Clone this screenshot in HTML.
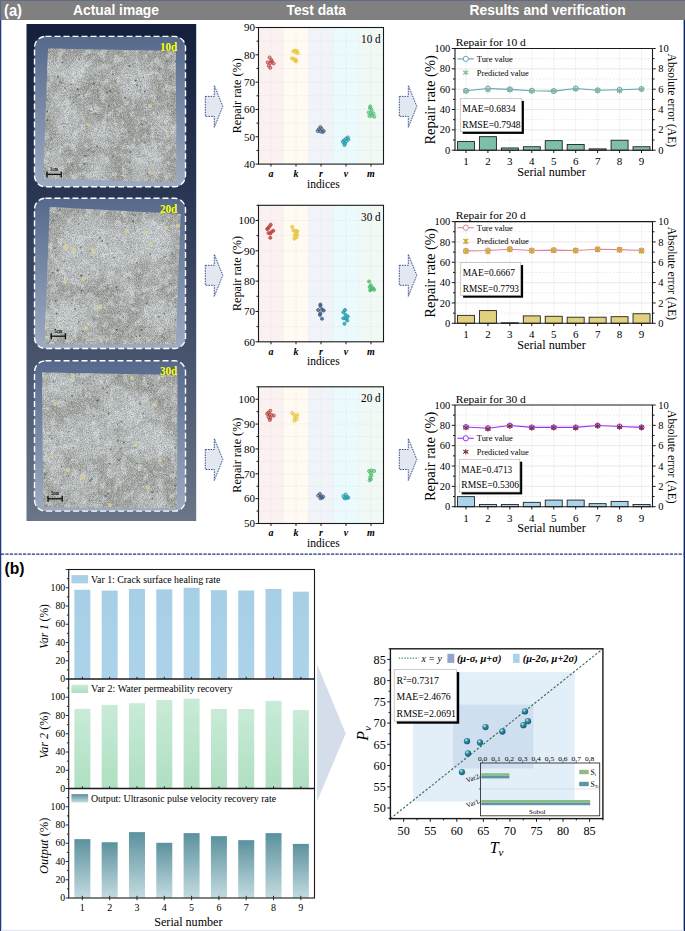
<!DOCTYPE html>
<html><head><meta charset="utf-8"><style>
html,body{margin:0;padding:0;background:#fff;width:685px;height:931px;overflow:hidden}
svg{display:block}
</style></head><body>
<svg width="685" height="931" viewBox="0 0 685 931">
<rect x="0.00" y="0.00" width="685.00" height="931.00" fill="#fff" stroke="none" stroke-width="1"/>
<rect x="0.00" y="0.00" width="685.00" height="1.10" fill="#5e6a86" stroke="none" stroke-width="1"/>
<rect x="0.00" y="1.00" width="685.00" height="19.00" fill="#808080" stroke="none" stroke-width="1"/>
<text x="4.00" y="16.00" font-family="'Liberation Sans', sans-serif" font-size="16" font-weight="bold" font-style="normal" fill="#fff" text-anchor="start" textLength="18" lengthAdjust="spacingAndGlyphs">(a)</text>
<text x="116.00" y="15.00" font-family="'Liberation Sans', sans-serif" font-size="14" font-weight="bold" font-style="normal" fill="#fff" text-anchor="middle" textLength="86" lengthAdjust="spacingAndGlyphs">Actual image</text>
<text x="316.30" y="15.00" font-family="'Liberation Sans', sans-serif" font-size="14" font-weight="bold" font-style="normal" fill="#fff" text-anchor="middle" textLength="59.5" lengthAdjust="spacingAndGlyphs">Test data</text>
<text x="547.60" y="15.00" font-family="'Liberation Sans', sans-serif" font-size="14" font-weight="bold" font-style="normal" fill="#fff" text-anchor="middle" textLength="156" lengthAdjust="spacingAndGlyphs">Results and verification</text>
<defs>
<linearGradient id="pg" x1="0" y1="0" x2="0" y2="1">
 <stop offset="0" stop-color="#141f3b"/><stop offset="0.35" stop-color="#2a3754"/><stop offset="0.7" stop-color="#4b5670"/><stop offset="1" stop-color="#6b7587"/>
</linearGradient>
<linearGradient id="sg" x1="0" y1="0" x2="0" y2="1">
 <stop offset="0" stop-color="#56698c"/><stop offset="1" stop-color="#9cabc1"/>
</linearGradient>
<filter id="tex" x="0" y="0" width="100%" height="100%">
 <feTurbulence type="fractalNoise" baseFrequency="1.3" numOctaves="2" seed="4" result="n"/>
 <feColorMatrix in="n" type="matrix" values="0 0 0 0 0  0 0 0 0 0  0 0 0 0 0  -5 0 0 0 3.0" result="a"/>
 <feComposite in="SourceGraphic" in2="a" operator="in" result="c"/>
 <feGaussianBlur in="c" stdDeviation="0.3"/>
</filter>
<filter id="texl" x="0" y="0" width="100%" height="100%">
 <feTurbulence type="fractalNoise" baseFrequency="1.1" numOctaves="2" seed="8" result="n"/>
 <feColorMatrix in="n" type="matrix" values="0 0 0 0 0  0 0 0 0 0  0 0 0 0 0  0 5 0 0 -2.2" result="a"/>
 <feComposite in="SourceGraphic" in2="a" operator="in" result="c"/>
 <feGaussianBlur in="c" stdDeviation="0.3"/>
</filter>
<filter id="sb" x="-50%" y="-50%" width="200%" height="200%"><feGaussianBlur stdDeviation="0.5"/></filter>
<filter id="wb" x="-20%" y="-20%" width="140%" height="140%"><feGaussianBlur stdDeviation="3.5"/></filter>
<filter id="mid" x="0" y="0" width="100%" height="100%">
 <feTurbulence type="fractalNoise" baseFrequency="0.14" numOctaves="2" seed="31" result="n"/>
 <feColorMatrix in="n" type="matrix" values="0 0 0 0 0  0 0 0 0 0  0 0 0 0 0  0 0 0 5 -2.45" result="a"/>
 <feComposite in="SourceGraphic" in2="a" operator="in"/>
</filter>
<filter id="blot1" x="0" y="0" width="100%" height="100%">
 <feTurbulence type="fractalNoise" baseFrequency="0.035" numOctaves="3" seed="11" result="n"/>
 <feColorMatrix in="n" type="matrix" values="0 0 0 0 0  0 0 0 0 0  0 0 0 0 0  0 0 0 3.2 -1.45" result="a"/>
 <feComposite in="SourceGraphic" in2="a" operator="in"/>
</filter>
<filter id="blot2" x="0" y="0" width="100%" height="100%">
 <feTurbulence type="fractalNoise" baseFrequency="0.03" numOctaves="3" seed="23" result="n"/>
 <feColorMatrix in="n" type="matrix" values="0 0 0 0 0  0 0 0 0 0  0 0 0 0 0  0 0 0 3.2 -1.35" result="a"/>
 <feComposite in="SourceGraphic" in2="a" operator="in"/>
</filter>
<filter id="blot3" x="0" y="0" width="100%" height="100%">
 <feTurbulence type="fractalNoise" baseFrequency="0.03" numOctaves="3" seed="37" result="n"/>
 <feColorMatrix in="n" type="matrix" values="0 0 0 0 0  0 0 0 0 0  0 0 0 0 0  0 0 0 3.2 -1.35" result="a"/>
 <feComposite in="SourceGraphic" in2="a" operator="in"/>
</filter>
</defs>
<rect x="26.50" y="24.00" width="169.70" height="497.00" fill="url(#pg)" stroke="none" stroke-width="1"/>
<rect x="34.5" y="36.4" width="151" height="150.3" rx="11" fill="url(#sg)"/>
<clipPath id="cp1"><polygon points="48.1,48.5 175.8,50.9 176.5,182.2 43.3,178.6"/></clipPath>
<polygon points="48.1,48.5 175.8,50.9 176.5,182.2 43.3,178.6" fill="#9b9c96"/>
<g clip-path="url(#cp1)"><rect x="34.5" y="36.4" width="151" height="150.3" fill="#dfe6ea" filter="url(#blot1)" opacity="0.5"/><g filter="url(#wb)" fill="#d5dde2" opacity="0.55"><ellipse cx="73.0" cy="73.5" rx="12.0" ry="14.5"/><ellipse cx="60.5" cy="99.0" rx="8.5" ry="8.0"/><ellipse cx="138.5" cy="88.0" rx="14.5" ry="12.0"/><ellipse cx="69.5" cy="123.0" rx="15.5" ry="18.0"/><ellipse cx="99.0" cy="134.0" rx="11.0" ry="10.0"/><ellipse cx="145.5" cy="158.5" rx="19.5" ry="14.5"/><ellipse cx="97.5" cy="161.5" rx="12.5" ry="8.5"/><ellipse cx="54.0" cy="158.5" rx="10.0" ry="14.5"/></g><rect x="34.5" y="36.4" width="151" height="150.3" fill="#dfe5e8" filter="url(#mid)" opacity="0.55"/><rect x="34.5" y="36.4" width="151" height="150.3" fill="#6f7372" filter="url(#tex)" opacity="0.4"/><rect x="34.5" y="36.4" width="151" height="150.3" fill="#e4eaee" filter="url(#texl)" opacity="0.4"/><circle cx="112.8" cy="156.4" r="1.08" fill="#545857" opacity="0.53"/><circle cx="145.3" cy="142.7" r="0.90" fill="#545857" opacity="0.45"/><circle cx="46.9" cy="99.9" r="0.95" fill="#545857" opacity="0.51"/><circle cx="110.1" cy="90.9" r="1.01" fill="#545857" opacity="0.83"/><circle cx="96.8" cy="182.0" r="0.54" fill="#545857" opacity="0.77"/><circle cx="159.9" cy="68.7" r="0.92" fill="#545857" opacity="0.65"/><circle cx="170.5" cy="76.6" r="0.82" fill="#545857" opacity="0.80"/><circle cx="128.4" cy="89.8" r="0.55" fill="#545857" opacity="0.82"/><circle cx="106.4" cy="181.7" r="0.58" fill="#545857" opacity="0.77"/><circle cx="151.6" cy="171.5" r="0.51" fill="#545857" opacity="0.57"/><circle cx="50.2" cy="149.0" r="0.71" fill="#545857" opacity="0.83"/><circle cx="93.2" cy="152.0" r="1.02" fill="#545857" opacity="0.51"/><circle cx="117.5" cy="176.5" r="0.82" fill="#545857" opacity="0.56"/><circle cx="78.9" cy="153.7" r="0.62" fill="#545857" opacity="0.67"/><circle cx="117.3" cy="122.5" r="0.58" fill="#545857" opacity="0.70"/><circle cx="165.4" cy="91.1" r="0.70" fill="#545857" opacity="0.81"/><circle cx="120.3" cy="84.9" r="0.51" fill="#545857" opacity="0.74"/><circle cx="89.7" cy="111.0" r="0.66" fill="#545857" opacity="0.68"/><circle cx="140.4" cy="89.9" r="0.55" fill="#545857" opacity="0.84"/><circle cx="164.5" cy="51.3" r="0.84" fill="#545857" opacity="0.71"/><circle cx="97.0" cy="146.3" r="1.08" fill="#545857" opacity="0.67"/><circle cx="95.5" cy="74.7" r="0.65" fill="#545857" opacity="0.47"/><circle cx="58.0" cy="76.9" r="1.01" fill="#545857" opacity="0.64"/><circle cx="150.5" cy="171.5" r="0.99" fill="#545857" opacity="0.42"/><circle cx="166.6" cy="60.9" r="0.96" fill="#545857" opacity="0.78"/><circle cx="130.9" cy="102.5" r="0.55" fill="#545857" opacity="0.44"/><circle cx="128.1" cy="80.8" r="0.82" fill="#545857" opacity="0.52"/><circle cx="65.1" cy="88.0" r="0.93" fill="#545857" opacity="0.62"/><circle cx="95.6" cy="113.5" r="0.83" fill="#545857" opacity="0.63"/><circle cx="102.6" cy="177.8" r="0.95" fill="#545857" opacity="0.50"/><circle cx="85.7" cy="73.7" r="0.72" fill="#545857" opacity="0.41"/><circle cx="142.5" cy="124.4" r="0.75" fill="#545857" opacity="0.80"/><circle cx="87.1" cy="125.9" r="1.06" fill="#545857" opacity="0.65"/><circle cx="124.9" cy="97.7" r="1.10" fill="#545857" opacity="0.74"/><circle cx="83.7" cy="96.0" r="0.85" fill="#545857" opacity="0.63"/><circle cx="113.0" cy="74.2" r="0.85" fill="#545857" opacity="0.72"/><circle cx="145.2" cy="108.6" r="0.77" fill="#545857" opacity="0.63"/><circle cx="114.7" cy="112.0" r="0.51" fill="#545857" opacity="0.52"/><circle cx="174.9" cy="159.0" r="0.78" fill="#545857" opacity="0.74"/><circle cx="71.4" cy="84.2" r="0.81" fill="#545857" opacity="0.71"/><circle cx="47.0" cy="111.6" r="1.04" fill="#545857" opacity="0.68"/><circle cx="175.6" cy="61.7" r="1.05" fill="#545857" opacity="0.78"/><circle cx="46.8" cy="120.2" r="0.96" fill="#545857" opacity="0.50"/><circle cx="129.8" cy="162.2" r="0.98" fill="#545857" opacity="0.59"/><circle cx="51.1" cy="120.6" r="0.61" fill="#545857" opacity="0.64"/><circle cx="79.2" cy="94.9" r="0.83" fill="#545857" opacity="0.77"/><circle cx="173.2" cy="102.7" r="0.50" fill="#545857" opacity="0.74"/><circle cx="88.5" cy="149.8" r="1.00" fill="#545857" opacity="0.42"/><circle cx="140.6" cy="86.6" r="0.69" fill="#545857" opacity="0.55"/><circle cx="115.0" cy="81.0" r="0.80" fill="#545857" opacity="0.53"/><circle cx="59.9" cy="81.9" r="0.91" fill="#545857" opacity="0.54"/><circle cx="70.0" cy="97.4" r="0.63" fill="#545857" opacity="0.84"/><circle cx="148.2" cy="68.8" r="0.68" fill="#545857" opacity="0.60"/><circle cx="113.6" cy="100.4" r="0.81" fill="#545857" opacity="0.74"/><circle cx="63.8" cy="123.3" r="0.60" fill="#545857" opacity="0.64"/><circle cx="85.5" cy="155.9" r="1.03" fill="#545857" opacity="0.83"/><circle cx="97.5" cy="131.0" r="0.60" fill="#545857" opacity="0.72"/><circle cx="146.9" cy="105.6" r="0.69" fill="#545857" opacity="0.74"/><circle cx="143.2" cy="155.4" r="0.67" fill="#545857" opacity="0.51"/><circle cx="76.7" cy="74.0" r="0.50" fill="#545857" opacity="0.46"/><circle cx="108.9" cy="106.1" r="1.03" fill="#545857" opacity="0.57"/><circle cx="66.0" cy="173.0" r="0.54" fill="#545857" opacity="0.55"/><circle cx="145.0" cy="91.5" r="1.08" fill="#545857" opacity="0.73"/><circle cx="84.4" cy="163.9" r="1.05" fill="#545857" opacity="0.63"/><circle cx="62.4" cy="62.4" r="0.99" fill="#545857" opacity="0.80"/><circle cx="130.4" cy="152.0" r="0.98" fill="#545857" opacity="0.51"/><circle cx="71.7" cy="164.5" r="1.00" fill="#545857" opacity="0.60"/><circle cx="79.3" cy="59.0" r="0.74" fill="#545857" opacity="0.81"/><circle cx="70.4" cy="90.7" r="0.52" fill="#545857" opacity="0.66"/><circle cx="51.3" cy="138.7" r="0.80" fill="#545857" opacity="0.59"/><circle cx="77.8" cy="89.0" r="1.04" fill="#545857" opacity="0.82"/><circle cx="143.5" cy="77.0" r="0.62" fill="#545857" opacity="0.56"/><circle cx="160.0" cy="174.6" r="0.64" fill="#545857" opacity="0.69"/><circle cx="93.9" cy="109.4" r="0.62" fill="#545857" opacity="0.72"/><circle cx="147.5" cy="174.1" r="0.79" fill="#545857" opacity="0.60"/><circle cx="129.4" cy="66.1" r="1.03" fill="#545857" opacity="0.75"/><circle cx="73.6" cy="102.2" r="0.79" fill="#545857" opacity="0.78"/><circle cx="135.6" cy="80.5" r="1.07" fill="#545857" opacity="0.82"/><circle cx="157.6" cy="114.4" r="0.78" fill="#545857" opacity="0.58"/><circle cx="173.5" cy="112.9" r="1.08" fill="#545857" opacity="0.48"/><circle cx="47.3" cy="111.6" r="0.62" fill="#545857" opacity="0.52"/><circle cx="48.1" cy="65.1" r="0.76" fill="#545857" opacity="0.44"/><circle cx="82.8" cy="130.4" r="0.66" fill="#545857" opacity="0.54"/><circle cx="93.7" cy="83.7" r="0.84" fill="#545857" opacity="0.75"/><circle cx="47.4" cy="120.2" r="0.82" fill="#545857" opacity="0.81"/><circle cx="137.1" cy="85.2" r="0.87" fill="#545857" opacity="0.81"/><circle cx="170.0" cy="151.1" r="0.56" fill="#545857" opacity="0.57"/><circle cx="107.1" cy="92.5" r="0.96" fill="#545857" opacity="0.62"/><circle cx="173.6" cy="49.5" r="0.98" fill="#545857" opacity="0.45"/><circle cx="112.4" cy="68.4" r="0.73" fill="#545857" opacity="0.68"/><circle cx="150" cy="106" r="2.03" fill="#d9cf98" opacity="0.85" filter="url(#sb)"/><circle cx="88" cy="125" r="1.74" fill="#d9cf98" opacity="0.85" filter="url(#sb)"/><circle cx="150" cy="172" r="1.89" fill="#d9cf98" opacity="0.85" filter="url(#sb)"/><circle cx="168" cy="136" r="1.59" fill="#d9cf98" opacity="0.85" filter="url(#sb)"/></g>
<rect x="34.5" y="36.4" width="151" height="150.3" rx="11" fill="none" stroke="#fff" stroke-width="1.4" stroke-dasharray="6 3"/>
<text x="177.30" y="50.70" font-family="'Liberation Serif', serif" font-size="11.5" font-weight="bold" font-style="normal" fill="#ffff00" text-anchor="end" textLength="17.4" lengthAdjust="spacingAndGlyphs">10d</text>
<line x1="47.00" y1="174.40" x2="61.20" y2="174.40" stroke="#111" stroke-width="1.3"/>
<line x1="47.00" y1="171.40" x2="47.00" y2="177.40" stroke="#111" stroke-width="1.4"/>
<line x1="61.20" y1="171.40" x2="61.20" y2="177.40" stroke="#111" stroke-width="1.4"/>
<text x="54.10" y="170.80" font-family="'Liberation Serif', serif" font-size="5.5" font-weight="bold" font-style="normal" fill="#111" text-anchor="middle" textLength="8" lengthAdjust="spacingAndGlyphs">1cm</text>
<rect x="34.5" y="198.2" width="151" height="150.3" rx="11" fill="url(#sg)"/>
<clipPath id="cp2"><polygon points="49.8,206.9 180.6,214.1 175.8,344.2 44.5,344.2"/></clipPath>
<polygon points="49.8,206.9 180.6,214.1 175.8,344.2 44.5,344.2" fill="#9d9e98"/>
<g clip-path="url(#cp2)"><rect x="34.5" y="198.2" width="151" height="150.3" fill="#dfe6ea" filter="url(#blot2)" opacity="0.5"/><g filter="url(#wb)" fill="#d5dde2" opacity="0.55"><ellipse cx="90.0" cy="232.0" rx="24.0" ry="18.0"/><ellipse cx="148.0" cy="240.5" rx="27.0" ry="21.5"/><ellipse cx="78.0" cy="268.0" rx="24.0" ry="18.0"/><ellipse cx="115.0" cy="245.0" rx="55.0" ry="20.0"/><ellipse cx="157.5" cy="315.0" rx="17.5" ry="15.0"/><ellipse cx="67.5" cy="317.5" rx="12.5" ry="17.5"/></g><rect x="34.5" y="198.2" width="151" height="150.3" fill="#dfe5e8" filter="url(#mid)" opacity="0.55"/><rect x="34.5" y="198.2" width="151" height="150.3" fill="#6f7372" filter="url(#tex)" opacity="0.4"/><rect x="34.5" y="198.2" width="151" height="150.3" fill="#e4eaee" filter="url(#texl)" opacity="0.4"/><circle cx="116.5" cy="287.3" r="1.01" fill="#545857" opacity="0.80"/><circle cx="164.6" cy="257.0" r="1.07" fill="#545857" opacity="0.59"/><circle cx="86.2" cy="219.9" r="0.81" fill="#545857" opacity="0.47"/><circle cx="81.8" cy="290.7" r="0.97" fill="#545857" opacity="0.74"/><circle cx="56.3" cy="215.3" r="0.65" fill="#545857" opacity="0.65"/><circle cx="158.7" cy="316.8" r="1.06" fill="#545857" opacity="0.66"/><circle cx="131.2" cy="247.0" r="0.69" fill="#545857" opacity="0.49"/><circle cx="117.4" cy="290.3" r="0.84" fill="#545857" opacity="0.58"/><circle cx="102.2" cy="241.0" r="0.99" fill="#545857" opacity="0.66"/><circle cx="146.4" cy="318.3" r="0.67" fill="#545857" opacity="0.45"/><circle cx="83.0" cy="331.5" r="0.97" fill="#545857" opacity="0.58"/><circle cx="150.2" cy="253.9" r="1.02" fill="#545857" opacity="0.44"/><circle cx="145.3" cy="341.5" r="0.75" fill="#545857" opacity="0.61"/><circle cx="62.3" cy="244.7" r="0.64" fill="#545857" opacity="0.53"/><circle cx="53.8" cy="248.0" r="0.56" fill="#545857" opacity="0.64"/><circle cx="99.8" cy="238.1" r="1.07" fill="#545857" opacity="0.54"/><circle cx="116.8" cy="329.7" r="0.96" fill="#545857" opacity="0.83"/><circle cx="127.4" cy="326.5" r="0.54" fill="#545857" opacity="0.73"/><circle cx="90.2" cy="251.0" r="0.96" fill="#545857" opacity="0.73"/><circle cx="91.0" cy="256.8" r="0.67" fill="#545857" opacity="0.82"/><circle cx="128.2" cy="242.6" r="0.82" fill="#545857" opacity="0.43"/><circle cx="81.2" cy="275.7" r="1.08" fill="#545857" opacity="0.79"/><circle cx="119.0" cy="311.7" r="0.65" fill="#545857" opacity="0.71"/><circle cx="180.1" cy="228.0" r="1.06" fill="#545857" opacity="0.84"/><circle cx="94.6" cy="318.7" r="1.09" fill="#545857" opacity="0.47"/><circle cx="107.8" cy="288.4" r="0.98" fill="#545857" opacity="0.52"/><circle cx="146.8" cy="303.6" r="1.01" fill="#545857" opacity="0.73"/><circle cx="161.7" cy="289.8" r="0.83" fill="#545857" opacity="0.61"/><circle cx="99.9" cy="270.4" r="0.80" fill="#545857" opacity="0.58"/><circle cx="64.2" cy="261.5" r="1.07" fill="#545857" opacity="0.54"/><circle cx="178.3" cy="321.2" r="0.77" fill="#545857" opacity="0.50"/><circle cx="164.1" cy="338.0" r="0.69" fill="#545857" opacity="0.70"/><circle cx="147.1" cy="292.2" r="0.57" fill="#545857" opacity="0.51"/><circle cx="142.7" cy="294.1" r="0.90" fill="#545857" opacity="0.53"/><circle cx="164.2" cy="313.5" r="0.79" fill="#545857" opacity="0.78"/><circle cx="85.6" cy="280.1" r="0.81" fill="#545857" opacity="0.84"/><circle cx="172.1" cy="253.7" r="0.97" fill="#545857" opacity="0.53"/><circle cx="164.7" cy="329.3" r="0.91" fill="#545857" opacity="0.42"/><circle cx="86.0" cy="230.4" r="0.80" fill="#545857" opacity="0.42"/><circle cx="53.0" cy="220.6" r="1.02" fill="#545857" opacity="0.67"/><circle cx="162.4" cy="336.4" r="0.84" fill="#545857" opacity="0.78"/><circle cx="103.7" cy="290.5" r="0.60" fill="#545857" opacity="0.60"/><circle cx="57.6" cy="270.3" r="1.08" fill="#545857" opacity="0.85"/><circle cx="146.6" cy="213.0" r="1.09" fill="#545857" opacity="0.64"/><circle cx="136.4" cy="262.8" r="0.97" fill="#545857" opacity="0.54"/><circle cx="59.4" cy="269.9" r="0.61" fill="#545857" opacity="0.50"/><circle cx="71.4" cy="303.3" r="0.91" fill="#545857" opacity="0.50"/><circle cx="138.0" cy="210.8" r="1.07" fill="#545857" opacity="0.51"/><circle cx="114.1" cy="257.7" r="1.01" fill="#545857" opacity="0.60"/><circle cx="67.3" cy="325.0" r="0.85" fill="#545857" opacity="0.52"/><circle cx="141.6" cy="329.9" r="0.95" fill="#545857" opacity="0.76"/><circle cx="92.5" cy="239.2" r="0.53" fill="#545857" opacity="0.80"/><circle cx="76.2" cy="257.5" r="0.98" fill="#545857" opacity="0.45"/><circle cx="170.9" cy="284.0" r="0.60" fill="#545857" opacity="0.76"/><circle cx="135.6" cy="215.6" r="0.79" fill="#545857" opacity="0.72"/><circle cx="81.6" cy="252.9" r="1.01" fill="#545857" opacity="0.46"/><circle cx="78.8" cy="223.9" r="0.79" fill="#545857" opacity="0.60"/><circle cx="81.8" cy="219.7" r="0.57" fill="#545857" opacity="0.74"/><circle cx="123.6" cy="317.1" r="0.57" fill="#545857" opacity="0.83"/><circle cx="138.3" cy="286.1" r="1.00" fill="#545857" opacity="0.43"/><circle cx="127.3" cy="248.5" r="0.52" fill="#545857" opacity="0.74"/><circle cx="48.5" cy="307.6" r="0.67" fill="#545857" opacity="0.78"/><circle cx="52.6" cy="272.9" r="1.09" fill="#545857" opacity="0.64"/><circle cx="129.0" cy="277.9" r="0.86" fill="#545857" opacity="0.58"/><circle cx="80.4" cy="247.6" r="1.00" fill="#545857" opacity="0.55"/><circle cx="139.6" cy="335.7" r="1.06" fill="#545857" opacity="0.78"/><circle cx="166.8" cy="295.9" r="0.82" fill="#545857" opacity="0.45"/><circle cx="54.5" cy="248.1" r="0.79" fill="#545857" opacity="0.62"/><circle cx="46.4" cy="287.0" r="0.71" fill="#545857" opacity="0.58"/><circle cx="56.5" cy="313.6" r="0.98" fill="#545857" opacity="0.74"/><circle cx="59.9" cy="209.7" r="1.07" fill="#545857" opacity="0.68"/><circle cx="173.2" cy="262.9" r="0.98" fill="#545857" opacity="0.45"/><circle cx="55.5" cy="300.8" r="0.90" fill="#545857" opacity="0.56"/><circle cx="117.2" cy="293.0" r="0.64" fill="#545857" opacity="0.40"/><circle cx="107.7" cy="243.9" r="1.08" fill="#545857" opacity="0.48"/><circle cx="116.7" cy="237.4" r="0.75" fill="#545857" opacity="0.49"/><circle cx="75.1" cy="308.9" r="0.95" fill="#545857" opacity="0.70"/><circle cx="180.0" cy="338.4" r="0.81" fill="#545857" opacity="0.79"/><circle cx="136.8" cy="313.6" r="0.65" fill="#545857" opacity="0.82"/><circle cx="138.9" cy="223.7" r="0.50" fill="#545857" opacity="0.56"/><circle cx="133.5" cy="252.3" r="0.73" fill="#545857" opacity="0.74"/><circle cx="78.4" cy="212.3" r="0.76" fill="#545857" opacity="0.56"/><circle cx="133.1" cy="221.1" r="1.01" fill="#545857" opacity="0.84"/><circle cx="146.2" cy="277.6" r="0.62" fill="#545857" opacity="0.42"/><circle cx="136.6" cy="336.4" r="0.69" fill="#545857" opacity="0.77"/><circle cx="175.4" cy="319.5" r="0.81" fill="#545857" opacity="0.72"/><circle cx="88.8" cy="274.5" r="0.63" fill="#545857" opacity="0.76"/><circle cx="79.0" cy="321.8" r="0.94" fill="#545857" opacity="0.50"/><circle cx="57.3" cy="300.1" r="0.71" fill="#545857" opacity="0.68"/><circle cx="163.0" cy="246.4" r="0.59" fill="#545857" opacity="0.66"/><circle cx="66" cy="247" r="2.90" fill="#d9cf98" opacity="0.85" filter="url(#sb)"/><circle cx="74" cy="250" r="2.61" fill="#d9cf98" opacity="0.85" filter="url(#sb)"/><circle cx="93" cy="251" r="2.61" fill="#d9cf98" opacity="0.85" filter="url(#sb)"/><circle cx="127" cy="231" r="2.17" fill="#d9cf98" opacity="0.85" filter="url(#sb)"/><circle cx="145" cy="233" r="2.03" fill="#d9cf98" opacity="0.85" filter="url(#sb)"/><circle cx="166" cy="228" r="2.03" fill="#d9cf98" opacity="0.85" filter="url(#sb)"/><circle cx="178" cy="226" r="2.17" fill="#d9cf98" opacity="0.85" filter="url(#sb)"/><circle cx="84" cy="279" r="2.17" fill="#d9cf98" opacity="0.85" filter="url(#sb)"/><circle cx="65" cy="282" r="2.03" fill="#d9cf98" opacity="0.85" filter="url(#sb)"/><circle cx="100" cy="307" r="2.32" fill="#d9cf98" opacity="0.85" filter="url(#sb)"/><circle cx="86" cy="328" r="2.17" fill="#d9cf98" opacity="0.85" filter="url(#sb)"/><circle cx="150" cy="244" r="1.89" fill="#d9cf98" opacity="0.85" filter="url(#sb)"/></g>
<rect x="34.5" y="198.2" width="151" height="150.3" rx="11" fill="none" stroke="#fff" stroke-width="1.4" stroke-dasharray="6 3"/>
<text x="177.30" y="212.50" font-family="'Liberation Serif', serif" font-size="11.5" font-weight="bold" font-style="normal" fill="#ffff00" text-anchor="end" textLength="17.4" lengthAdjust="spacingAndGlyphs">20d</text>
<line x1="51.20" y1="336.20" x2="65.40" y2="336.20" stroke="#111" stroke-width="1.3"/>
<line x1="51.20" y1="333.20" x2="51.20" y2="339.20" stroke="#111" stroke-width="1.4"/>
<line x1="65.40" y1="333.20" x2="65.40" y2="339.20" stroke="#111" stroke-width="1.4"/>
<text x="58.30" y="332.60" font-family="'Liberation Serif', serif" font-size="5.5" font-weight="bold" font-style="normal" fill="#111" text-anchor="middle" textLength="8" lengthAdjust="spacingAndGlyphs">5cm</text>
<rect x="34.5" y="360.8" width="151" height="150.3" rx="11" fill="url(#sg)"/>
<clipPath id="cp3"><polygon points="42.0,372.5 177.5,374.9 177.0,508.6 43.3,507.4"/></clipPath>
<polygon points="42.0,372.5 177.5,374.9 177.0,508.6 43.3,507.4" fill="#9c9d97"/>
<g clip-path="url(#cp3)"><rect x="34.5" y="360.8" width="151" height="150.3" fill="#dfe6ea" filter="url(#blot3)" opacity="0.5"/><g filter="url(#wb)" fill="#d5dde2" opacity="0.55"><ellipse cx="66.0" cy="388.0" rx="12.0" ry="12.0"/><ellipse cx="124.0" cy="406.0" rx="22.0" ry="18.0"/><ellipse cx="87.5" cy="436.0" rx="26.5" ry="24.0"/><ellipse cx="148.0" cy="442.0" rx="27.0" ry="18.0"/><ellipse cx="84.0" cy="477.5" rx="18.0" ry="9.5"/></g><rect x="34.5" y="360.8" width="151" height="150.3" fill="#dfe5e8" filter="url(#mid)" opacity="0.55"/><rect x="34.5" y="360.8" width="151" height="150.3" fill="#6f7372" filter="url(#tex)" opacity="0.4"/><rect x="34.5" y="360.8" width="151" height="150.3" fill="#e4eaee" filter="url(#texl)" opacity="0.4"/><circle cx="75.0" cy="440.9" r="0.60" fill="#545857" opacity="0.77"/><circle cx="73.4" cy="447.7" r="1.06" fill="#545857" opacity="0.58"/><circle cx="173.1" cy="472.1" r="0.83" fill="#545857" opacity="0.68"/><circle cx="121.4" cy="421.5" r="1.10" fill="#545857" opacity="0.58"/><circle cx="175.3" cy="488.5" r="0.52" fill="#545857" opacity="0.52"/><circle cx="106.7" cy="483.4" r="0.61" fill="#545857" opacity="0.68"/><circle cx="91.8" cy="479.4" r="1.06" fill="#545857" opacity="0.74"/><circle cx="68.2" cy="476.0" r="0.76" fill="#545857" opacity="0.78"/><circle cx="105.7" cy="495.9" r="1.09" fill="#545857" opacity="0.77"/><circle cx="153.9" cy="484.0" r="0.86" fill="#545857" opacity="0.48"/><circle cx="175.6" cy="435.7" r="0.51" fill="#545857" opacity="0.60"/><circle cx="98.2" cy="399.8" r="1.08" fill="#545857" opacity="0.45"/><circle cx="164.5" cy="447.3" r="0.61" fill="#545857" opacity="0.56"/><circle cx="103.0" cy="388.5" r="0.96" fill="#545857" opacity="0.69"/><circle cx="175.1" cy="485.4" r="0.97" fill="#545857" opacity="0.85"/><circle cx="168.3" cy="460.1" r="0.82" fill="#545857" opacity="0.64"/><circle cx="152.3" cy="498.4" r="1.00" fill="#545857" opacity="0.78"/><circle cx="45.7" cy="429.7" r="0.55" fill="#545857" opacity="0.66"/><circle cx="120.6" cy="448.8" r="1.01" fill="#545857" opacity="0.50"/><circle cx="140.8" cy="452.3" r="0.63" fill="#545857" opacity="0.84"/><circle cx="49.3" cy="435.8" r="0.82" fill="#545857" opacity="0.67"/><circle cx="175.1" cy="447.6" r="1.03" fill="#545857" opacity="0.53"/><circle cx="107.2" cy="392.5" r="0.88" fill="#545857" opacity="0.59"/><circle cx="148.3" cy="387.8" r="0.78" fill="#545857" opacity="0.83"/><circle cx="43.5" cy="462.4" r="0.91" fill="#545857" opacity="0.73"/><circle cx="117.5" cy="440.7" r="1.08" fill="#545857" opacity="0.53"/><circle cx="137.4" cy="463.5" r="0.94" fill="#545857" opacity="0.62"/><circle cx="44.3" cy="478.0" r="0.67" fill="#545857" opacity="0.75"/><circle cx="175.8" cy="478.2" r="0.74" fill="#545857" opacity="0.79"/><circle cx="94.3" cy="416.1" r="0.84" fill="#545857" opacity="0.69"/><circle cx="134.9" cy="447.7" r="0.75" fill="#545857" opacity="0.73"/><circle cx="86.0" cy="455.0" r="0.50" fill="#545857" opacity="0.46"/><circle cx="159.5" cy="401.8" r="0.75" fill="#545857" opacity="0.42"/><circle cx="145.7" cy="417.2" r="0.53" fill="#545857" opacity="0.52"/><circle cx="168.1" cy="475.3" r="0.50" fill="#545857" opacity="0.83"/><circle cx="51.8" cy="438.4" r="0.82" fill="#545857" opacity="0.75"/><circle cx="61.2" cy="484.8" r="0.66" fill="#545857" opacity="0.73"/><circle cx="167.6" cy="452.8" r="0.50" fill="#545857" opacity="0.70"/><circle cx="101.0" cy="471.9" r="0.97" fill="#545857" opacity="0.45"/><circle cx="118.9" cy="460.1" r="1.06" fill="#545857" opacity="0.68"/><circle cx="125.3" cy="477.1" r="0.60" fill="#545857" opacity="0.79"/><circle cx="120.7" cy="459.1" r="0.59" fill="#545857" opacity="0.64"/><circle cx="97.5" cy="400.5" r="1.06" fill="#545857" opacity="0.78"/><circle cx="104.2" cy="382.7" r="1.09" fill="#545857" opacity="0.45"/><circle cx="110.7" cy="449.4" r="1.01" fill="#545857" opacity="0.70"/><circle cx="123.8" cy="442.3" r="1.09" fill="#545857" opacity="0.77"/><circle cx="90.3" cy="480.7" r="1.07" fill="#545857" opacity="0.62"/><circle cx="53.5" cy="381.6" r="1.08" fill="#545857" opacity="0.49"/><circle cx="151.0" cy="398.8" r="0.63" fill="#545857" opacity="0.47"/><circle cx="152.5" cy="385.0" r="0.78" fill="#545857" opacity="0.76"/><circle cx="113.4" cy="373.8" r="0.51" fill="#545857" opacity="0.77"/><circle cx="82.7" cy="383.8" r="0.82" fill="#545857" opacity="0.75"/><circle cx="83.1" cy="390.7" r="0.61" fill="#545857" opacity="0.61"/><circle cx="147.7" cy="383.8" r="0.96" fill="#545857" opacity="0.71"/><circle cx="117.6" cy="424.6" r="0.52" fill="#545857" opacity="0.63"/><circle cx="97.8" cy="464.9" r="0.54" fill="#545857" opacity="0.47"/><circle cx="44.5" cy="438.7" r="0.54" fill="#545857" opacity="0.64"/><circle cx="101.2" cy="417.5" r="0.61" fill="#545857" opacity="0.81"/><circle cx="107.1" cy="386.4" r="0.85" fill="#545857" opacity="0.74"/><circle cx="108.1" cy="493.8" r="1.00" fill="#545857" opacity="0.71"/><circle cx="45.5" cy="427.2" r="0.81" fill="#545857" opacity="0.48"/><circle cx="109.7" cy="463.4" r="0.95" fill="#545857" opacity="0.74"/><circle cx="143.3" cy="413.3" r="0.87" fill="#545857" opacity="0.63"/><circle cx="144.8" cy="389.1" r="0.61" fill="#545857" opacity="0.72"/><circle cx="140.1" cy="403.7" r="0.96" fill="#545857" opacity="0.75"/><circle cx="129.6" cy="435.3" r="0.53" fill="#545857" opacity="0.50"/><circle cx="145.7" cy="499.3" r="0.60" fill="#545857" opacity="0.42"/><circle cx="89.3" cy="500.5" r="0.63" fill="#545857" opacity="0.82"/><circle cx="148.2" cy="486.9" r="1.09" fill="#545857" opacity="0.70"/><circle cx="68.8" cy="431.5" r="0.74" fill="#545857" opacity="0.70"/><circle cx="89.9" cy="472.0" r="0.52" fill="#545857" opacity="0.50"/><circle cx="72.1" cy="395.7" r="0.95" fill="#545857" opacity="0.79"/><circle cx="54.8" cy="437.4" r="0.50" fill="#545857" opacity="0.51"/><circle cx="61.6" cy="466.7" r="1.00" fill="#545857" opacity="0.78"/><circle cx="79.2" cy="428.3" r="0.64" fill="#545857" opacity="0.70"/><circle cx="73.0" cy="476.8" r="0.78" fill="#545857" opacity="0.65"/><circle cx="160.1" cy="498.3" r="0.66" fill="#545857" opacity="0.73"/><circle cx="79.0" cy="374.0" r="1.01" fill="#545857" opacity="0.49"/><circle cx="80.1" cy="470.2" r="1.01" fill="#545857" opacity="0.57"/><circle cx="139.0" cy="426.4" r="0.51" fill="#545857" opacity="0.65"/><circle cx="65.4" cy="401.0" r="0.74" fill="#545857" opacity="0.69"/><circle cx="71.8" cy="402.3" r="0.84" fill="#545857" opacity="0.52"/><circle cx="118.0" cy="464.2" r="0.68" fill="#545857" opacity="0.80"/><circle cx="173.1" cy="377.8" r="0.54" fill="#545857" opacity="0.45"/><circle cx="108.6" cy="413.5" r="0.94" fill="#545857" opacity="0.84"/><circle cx="103.4" cy="409.8" r="0.63" fill="#545857" opacity="0.81"/><circle cx="152.4" cy="492.1" r="1.10" fill="#545857" opacity="0.60"/><circle cx="143.2" cy="418.3" r="0.58" fill="#545857" opacity="0.71"/><circle cx="92.2" cy="445.9" r="0.84" fill="#545857" opacity="0.51"/><circle cx="45.0" cy="473.8" r="0.96" fill="#545857" opacity="0.74"/><circle cx="73" cy="376" r="1.89" fill="#d9cf98" opacity="0.85" filter="url(#sb)"/><circle cx="132" cy="378" r="2.03" fill="#d9cf98" opacity="0.85" filter="url(#sb)"/><circle cx="55" cy="404" r="1.89" fill="#d9cf98" opacity="0.85" filter="url(#sb)"/><circle cx="155" cy="405" r="1.89" fill="#d9cf98" opacity="0.85" filter="url(#sb)"/><circle cx="135" cy="445" r="2.03" fill="#d9cf98" opacity="0.85" filter="url(#sb)"/><circle cx="52" cy="457" r="1.74" fill="#d9cf98" opacity="0.85" filter="url(#sb)"/><circle cx="68" cy="470" r="2.32" fill="#d9cf98" opacity="0.85" filter="url(#sb)"/><circle cx="83" cy="477" r="2.61" fill="#d9cf98" opacity="0.85" filter="url(#sb)"/><circle cx="148" cy="487" r="2.17" fill="#d9cf98" opacity="0.85" filter="url(#sb)"/><circle cx="110" cy="505" r="2.03" fill="#d9cf98" opacity="0.85" filter="url(#sb)"/><circle cx="160" cy="460" r="1.89" fill="#d9cf98" opacity="0.85" filter="url(#sb)"/></g>
<rect x="34.5" y="360.8" width="151" height="150.3" rx="11" fill="none" stroke="#fff" stroke-width="1.4" stroke-dasharray="6 3"/>
<text x="177.30" y="375.10" font-family="'Liberation Serif', serif" font-size="11.5" font-weight="bold" font-style="normal" fill="#ffff00" text-anchor="end" textLength="17.4" lengthAdjust="spacingAndGlyphs">30d</text>
<line x1="48.00" y1="498.80" x2="62.20" y2="498.80" stroke="#111" stroke-width="1.3"/>
<line x1="48.00" y1="495.80" x2="48.00" y2="501.80" stroke="#111" stroke-width="1.4"/>
<line x1="62.20" y1="495.80" x2="62.20" y2="501.80" stroke="#111" stroke-width="1.4"/>
<text x="55.10" y="495.20" font-family="'Liberation Serif', serif" font-size="5.5" font-weight="bold" font-style="normal" fill="#111" text-anchor="middle" textLength="8" lengthAdjust="spacingAndGlyphs">5cm</text>
<polygon points="205.3,96.4 214.3,96.4 214.3,85.4 222.8,106.4 214.3,127.4 214.3,116.4 205.3,116.4" fill="#e3e7f0" stroke="#3d5395" stroke-width="1" stroke-dasharray="1.6 1"/>
<polygon points="399.3,96.4 408.3,96.4 408.3,85.4 416.8,106.4 408.3,127.4 408.3,116.4 399.3,116.4" fill="#e3e7f0" stroke="#3d5395" stroke-width="1" stroke-dasharray="1.6 1"/>
<polygon points="205.3,265.3 214.3,265.3 214.3,254.3 222.8,275.3 214.3,296.3 214.3,285.3 205.3,285.3" fill="#e3e7f0" stroke="#3d5395" stroke-width="1" stroke-dasharray="1.6 1"/>
<polygon points="399.3,265.3 408.3,265.3 408.3,254.3 416.8,275.3 408.3,296.3 408.3,285.3 399.3,285.3" fill="#e3e7f0" stroke="#3d5395" stroke-width="1" stroke-dasharray="1.6 1"/>
<polygon points="205.3,449.5 214.3,449.5 214.3,438.5 222.8,459.5 214.3,480.5 214.3,469.5 205.3,469.5" fill="#e3e7f0" stroke="#3d5395" stroke-width="1" stroke-dasharray="1.6 1"/>
<polygon points="399.3,449.5 408.3,449.5 408.3,438.5 416.8,459.5 408.3,480.5 408.3,469.5 399.3,469.5" fill="#e3e7f0" stroke="#3d5395" stroke-width="1" stroke-dasharray="1.6 1"/>
<rect x="258.50" y="27.50" width="25.00" height="136.60" fill="#fcf1f1" stroke="none" stroke-width="1"/>
<rect x="283.50" y="27.50" width="25.00" height="136.60" fill="#fffbf2" stroke="none" stroke-width="1"/>
<rect x="308.50" y="27.50" width="25.00" height="136.60" fill="#f0f4f9" stroke="none" stroke-width="1"/>
<rect x="333.50" y="27.50" width="25.00" height="136.60" fill="#ebfafc" stroke="none" stroke-width="1"/>
<rect x="358.50" y="27.50" width="25.00" height="136.60" fill="#f0f9f4" stroke="none" stroke-width="1"/>
<line x1="258.50" y1="150.44" x2="383.50" y2="150.44" stroke="#dcdcdc" stroke-width="0.5" stroke-dasharray="1.2 1.2"/>
<line x1="258.50" y1="136.78" x2="383.50" y2="136.78" stroke="#dcdcdc" stroke-width="0.5" stroke-dasharray="1.2 1.2"/>
<line x1="258.50" y1="123.12" x2="383.50" y2="123.12" stroke="#dcdcdc" stroke-width="0.5" stroke-dasharray="1.2 1.2"/>
<line x1="258.50" y1="109.46" x2="383.50" y2="109.46" stroke="#dcdcdc" stroke-width="0.5" stroke-dasharray="1.2 1.2"/>
<line x1="258.50" y1="95.80" x2="383.50" y2="95.80" stroke="#dcdcdc" stroke-width="0.5" stroke-dasharray="1.2 1.2"/>
<line x1="258.50" y1="82.14" x2="383.50" y2="82.14" stroke="#dcdcdc" stroke-width="0.5" stroke-dasharray="1.2 1.2"/>
<line x1="258.50" y1="68.48" x2="383.50" y2="68.48" stroke="#dcdcdc" stroke-width="0.5" stroke-dasharray="1.2 1.2"/>
<line x1="258.50" y1="54.82" x2="383.50" y2="54.82" stroke="#dcdcdc" stroke-width="0.5" stroke-dasharray="1.2 1.2"/>
<line x1="258.50" y1="41.16" x2="383.50" y2="41.16" stroke="#dcdcdc" stroke-width="0.5" stroke-dasharray="1.2 1.2"/>
<line x1="271.00" y1="27.50" x2="271.00" y2="164.10" stroke="#dcdcdc" stroke-width="0.5" stroke-dasharray="1.2 1.2"/>
<line x1="283.50" y1="27.50" x2="283.50" y2="164.10" stroke="#dcdcdc" stroke-width="0.5" stroke-dasharray="1.2 1.2"/>
<line x1="296.00" y1="27.50" x2="296.00" y2="164.10" stroke="#dcdcdc" stroke-width="0.5" stroke-dasharray="1.2 1.2"/>
<line x1="308.50" y1="27.50" x2="308.50" y2="164.10" stroke="#dcdcdc" stroke-width="0.5" stroke-dasharray="1.2 1.2"/>
<line x1="321.00" y1="27.50" x2="321.00" y2="164.10" stroke="#dcdcdc" stroke-width="0.5" stroke-dasharray="1.2 1.2"/>
<line x1="333.50" y1="27.50" x2="333.50" y2="164.10" stroke="#dcdcdc" stroke-width="0.5" stroke-dasharray="1.2 1.2"/>
<line x1="346.00" y1="27.50" x2="346.00" y2="164.10" stroke="#dcdcdc" stroke-width="0.5" stroke-dasharray="1.2 1.2"/>
<line x1="358.50" y1="27.50" x2="358.50" y2="164.10" stroke="#dcdcdc" stroke-width="0.5" stroke-dasharray="1.2 1.2"/>
<line x1="371.00" y1="27.50" x2="371.00" y2="164.10" stroke="#dcdcdc" stroke-width="0.5" stroke-dasharray="1.2 1.2"/>
<circle cx="269.60" cy="57.50" r="1.55" fill="#b8423e" fill-opacity="0.45" stroke="#b8423e" stroke-width="0.8"/>
<circle cx="271.40" cy="60.10" r="1.55" fill="#b8423e" fill-opacity="0.45" stroke="#b8423e" stroke-width="0.8"/>
<circle cx="267.70" cy="62.30" r="1.55" fill="#b8423e" fill-opacity="0.45" stroke="#b8423e" stroke-width="0.8"/>
<circle cx="270.50" cy="62.90" r="1.55" fill="#b8423e" fill-opacity="0.45" stroke="#b8423e" stroke-width="0.8"/>
<circle cx="273.60" cy="63.50" r="1.55" fill="#b8423e" fill-opacity="0.45" stroke="#b8423e" stroke-width="0.8"/>
<circle cx="268.80" cy="65.80" r="1.55" fill="#b8423e" fill-opacity="0.45" stroke="#b8423e" stroke-width="0.8"/>
<circle cx="270.30" cy="67.80" r="1.55" fill="#b8423e" fill-opacity="0.45" stroke="#b8423e" stroke-width="0.8"/>
<circle cx="271.80" cy="61.50" r="1.55" fill="#b8423e" fill-opacity="0.45" stroke="#b8423e" stroke-width="0.8"/>
<circle cx="293.30" cy="51.40" r="1.55" fill="#e8c53c" fill-opacity="0.45" stroke="#e8c53c" stroke-width="0.8"/>
<circle cx="295.00" cy="50.50" r="1.55" fill="#e8c53c" fill-opacity="0.45" stroke="#e8c53c" stroke-width="0.8"/>
<circle cx="296.80" cy="50.90" r="1.55" fill="#e8c53c" fill-opacity="0.45" stroke="#e8c53c" stroke-width="0.8"/>
<circle cx="297.70" cy="53.10" r="1.55" fill="#e8c53c" fill-opacity="0.45" stroke="#e8c53c" stroke-width="0.8"/>
<circle cx="295.90" cy="52.30" r="1.55" fill="#e8c53c" fill-opacity="0.45" stroke="#e8c53c" stroke-width="0.8"/>
<circle cx="292.00" cy="58.40" r="1.55" fill="#e8c53c" fill-opacity="0.45" stroke="#e8c53c" stroke-width="0.8"/>
<circle cx="293.70" cy="58.80" r="1.55" fill="#e8c53c" fill-opacity="0.45" stroke="#e8c53c" stroke-width="0.8"/>
<circle cx="295.90" cy="59.70" r="1.55" fill="#e8c53c" fill-opacity="0.45" stroke="#e8c53c" stroke-width="0.8"/>
<circle cx="296.30" cy="61.50" r="1.55" fill="#e8c53c" fill-opacity="0.45" stroke="#e8c53c" stroke-width="0.8"/>
<circle cx="295.00" cy="60.60" r="1.55" fill="#e8c53c" fill-opacity="0.45" stroke="#e8c53c" stroke-width="0.8"/>
<circle cx="320.40" cy="127.10" r="1.55" fill="#3f5a7e" fill-opacity="0.45" stroke="#3f5a7e" stroke-width="0.8"/>
<circle cx="318.80" cy="129.30" r="1.55" fill="#3f5a7e" fill-opacity="0.45" stroke="#3f5a7e" stroke-width="0.8"/>
<circle cx="321.50" cy="128.80" r="1.55" fill="#3f5a7e" fill-opacity="0.45" stroke="#3f5a7e" stroke-width="0.8"/>
<circle cx="317.70" cy="131.00" r="1.55" fill="#3f5a7e" fill-opacity="0.45" stroke="#3f5a7e" stroke-width="0.8"/>
<circle cx="320.40" cy="131.50" r="1.55" fill="#3f5a7e" fill-opacity="0.45" stroke="#3f5a7e" stroke-width="0.8"/>
<circle cx="322.60" cy="132.00" r="1.55" fill="#3f5a7e" fill-opacity="0.45" stroke="#3f5a7e" stroke-width="0.8"/>
<circle cx="323.70" cy="131.00" r="1.55" fill="#3f5a7e" fill-opacity="0.45" stroke="#3f5a7e" stroke-width="0.8"/>
<circle cx="347.80" cy="137.50" r="1.55" fill="#1f97a9" fill-opacity="0.45" stroke="#1f97a9" stroke-width="0.8"/>
<circle cx="346.10" cy="138.60" r="1.55" fill="#1f97a9" fill-opacity="0.45" stroke="#1f97a9" stroke-width="0.8"/>
<circle cx="348.30" cy="139.70" r="1.55" fill="#1f97a9" fill-opacity="0.45" stroke="#1f97a9" stroke-width="0.8"/>
<circle cx="343.90" cy="140.30" r="1.55" fill="#1f97a9" fill-opacity="0.45" stroke="#1f97a9" stroke-width="0.8"/>
<circle cx="346.10" cy="141.40" r="1.55" fill="#1f97a9" fill-opacity="0.45" stroke="#1f97a9" stroke-width="0.8"/>
<circle cx="342.80" cy="141.90" r="1.55" fill="#1f97a9" fill-opacity="0.45" stroke="#1f97a9" stroke-width="0.8"/>
<circle cx="345.00" cy="143.50" r="1.55" fill="#1f97a9" fill-opacity="0.45" stroke="#1f97a9" stroke-width="0.8"/>
<circle cx="344.50" cy="145.00" r="1.55" fill="#1f97a9" fill-opacity="0.45" stroke="#1f97a9" stroke-width="0.8"/>
<circle cx="370.30" cy="106.40" r="1.55" fill="#48ba6c" fill-opacity="0.45" stroke="#48ba6c" stroke-width="0.8"/>
<circle cx="370.10" cy="108.10" r="1.55" fill="#48ba6c" fill-opacity="0.45" stroke="#48ba6c" stroke-width="0.8"/>
<circle cx="371.60" cy="109.90" r="1.55" fill="#48ba6c" fill-opacity="0.45" stroke="#48ba6c" stroke-width="0.8"/>
<circle cx="368.60" cy="112.50" r="1.55" fill="#48ba6c" fill-opacity="0.45" stroke="#48ba6c" stroke-width="0.8"/>
<circle cx="370.80" cy="113.00" r="1.55" fill="#48ba6c" fill-opacity="0.45" stroke="#48ba6c" stroke-width="0.8"/>
<circle cx="373.40" cy="113.40" r="1.55" fill="#48ba6c" fill-opacity="0.45" stroke="#48ba6c" stroke-width="0.8"/>
<circle cx="369.50" cy="116.00" r="1.55" fill="#48ba6c" fill-opacity="0.45" stroke="#48ba6c" stroke-width="0.8"/>
<circle cx="371.60" cy="115.60" r="1.55" fill="#48ba6c" fill-opacity="0.45" stroke="#48ba6c" stroke-width="0.8"/>
<circle cx="374.30" cy="116.70" r="1.55" fill="#48ba6c" fill-opacity="0.45" stroke="#48ba6c" stroke-width="0.8"/>
<rect x="258.50" y="27.50" width="125.00" height="136.60" fill="none" stroke="#1a1a1a" stroke-width="1.1"/>
<line x1="255.50" y1="164.10" x2="258.50" y2="164.10" stroke="#1a1a1a" stroke-width="1"/>
<text x="255.00" y="167.90" font-family="'Liberation Serif', serif" font-size="11" font-weight="normal" font-style="normal" fill="#000" text-anchor="end">40</text>
<line x1="256.50" y1="150.44" x2="258.50" y2="150.44" stroke="#1a1a1a" stroke-width="1"/>
<line x1="255.50" y1="136.78" x2="258.50" y2="136.78" stroke="#1a1a1a" stroke-width="1"/>
<text x="255.00" y="140.58" font-family="'Liberation Serif', serif" font-size="11" font-weight="normal" font-style="normal" fill="#000" text-anchor="end">50</text>
<line x1="256.50" y1="123.12" x2="258.50" y2="123.12" stroke="#1a1a1a" stroke-width="1"/>
<line x1="255.50" y1="109.46" x2="258.50" y2="109.46" stroke="#1a1a1a" stroke-width="1"/>
<text x="255.00" y="113.26" font-family="'Liberation Serif', serif" font-size="11" font-weight="normal" font-style="normal" fill="#000" text-anchor="end">60</text>
<line x1="256.50" y1="95.80" x2="258.50" y2="95.80" stroke="#1a1a1a" stroke-width="1"/>
<line x1="255.50" y1="82.14" x2="258.50" y2="82.14" stroke="#1a1a1a" stroke-width="1"/>
<text x="255.00" y="85.94" font-family="'Liberation Serif', serif" font-size="11" font-weight="normal" font-style="normal" fill="#000" text-anchor="end">70</text>
<line x1="256.50" y1="68.48" x2="258.50" y2="68.48" stroke="#1a1a1a" stroke-width="1"/>
<line x1="255.50" y1="54.82" x2="258.50" y2="54.82" stroke="#1a1a1a" stroke-width="1"/>
<text x="255.00" y="58.62" font-family="'Liberation Serif', serif" font-size="11" font-weight="normal" font-style="normal" fill="#000" text-anchor="end">80</text>
<line x1="256.50" y1="41.16" x2="258.50" y2="41.16" stroke="#1a1a1a" stroke-width="1"/>
<line x1="255.50" y1="27.50" x2="258.50" y2="27.50" stroke="#1a1a1a" stroke-width="1"/>
<text x="255.00" y="31.30" font-family="'Liberation Serif', serif" font-size="11" font-weight="normal" font-style="normal" fill="#000" text-anchor="end">90</text>
<line x1="271.00" y1="164.10" x2="271.00" y2="166.60" stroke="#1a1a1a" stroke-width="1"/>
<text x="271.00" y="176.90" font-family="'Liberation Serif', serif" font-size="10" font-weight="bold" font-style="italic" fill="#000" text-anchor="middle">a</text>
<line x1="296.00" y1="164.10" x2="296.00" y2="166.60" stroke="#1a1a1a" stroke-width="1"/>
<text x="296.00" y="176.90" font-family="'Liberation Serif', serif" font-size="10" font-weight="bold" font-style="italic" fill="#000" text-anchor="middle">k</text>
<line x1="321.00" y1="164.10" x2="321.00" y2="166.60" stroke="#1a1a1a" stroke-width="1"/>
<text x="321.00" y="176.90" font-family="'Liberation Serif', serif" font-size="10" font-weight="bold" font-style="italic" fill="#000" text-anchor="middle">r</text>
<line x1="346.00" y1="164.10" x2="346.00" y2="166.60" stroke="#1a1a1a" stroke-width="1"/>
<text x="346.00" y="176.90" font-family="'Liberation Serif', serif" font-size="10" font-weight="bold" font-style="italic" fill="#000" text-anchor="middle">v</text>
<line x1="371.00" y1="164.10" x2="371.00" y2="166.60" stroke="#1a1a1a" stroke-width="1"/>
<text x="371.00" y="176.90" font-family="'Liberation Serif', serif" font-size="10" font-weight="bold" font-style="italic" fill="#000" text-anchor="middle">m</text>
<text x="323.40" y="187.60" font-family="'Liberation Serif', serif" font-size="12" font-weight="normal" font-style="normal" fill="#000" text-anchor="middle" textLength="32.7" lengthAdjust="spacingAndGlyphs">indices</text>
<text x="241.50" y="95.80" font-family="'Liberation Serif', serif" font-size="12.5" font-weight="normal" font-style="normal" fill="#000" text-anchor="middle" textLength="75" lengthAdjust="spacingAndGlyphs" transform="rotate(-90 241.5 95.8)">Repair rate (%)</text>
<text x="380.70" y="42.70" font-family="'Liberation Serif', serif" font-size="11.5" font-weight="normal" font-style="normal" fill="#000" text-anchor="end" textLength="19.6" lengthAdjust="spacingAndGlyphs">10 d</text>
<rect x="258.50" y="205.30" width="25.00" height="136.50" fill="#fcf1f1" stroke="none" stroke-width="1"/>
<rect x="283.50" y="205.30" width="25.00" height="136.50" fill="#fffbf2" stroke="none" stroke-width="1"/>
<rect x="308.50" y="205.30" width="25.00" height="136.50" fill="#f0f4f9" stroke="none" stroke-width="1"/>
<rect x="333.50" y="205.30" width="25.00" height="136.50" fill="#ebfafc" stroke="none" stroke-width="1"/>
<rect x="358.50" y="205.30" width="25.00" height="136.50" fill="#f0f9f4" stroke="none" stroke-width="1"/>
<line x1="258.50" y1="326.63" x2="383.50" y2="326.63" stroke="#dcdcdc" stroke-width="0.5" stroke-dasharray="1.2 1.2"/>
<line x1="258.50" y1="311.47" x2="383.50" y2="311.47" stroke="#dcdcdc" stroke-width="0.5" stroke-dasharray="1.2 1.2"/>
<line x1="258.50" y1="296.30" x2="383.50" y2="296.30" stroke="#dcdcdc" stroke-width="0.5" stroke-dasharray="1.2 1.2"/>
<line x1="258.50" y1="281.13" x2="383.50" y2="281.13" stroke="#dcdcdc" stroke-width="0.5" stroke-dasharray="1.2 1.2"/>
<line x1="258.50" y1="265.97" x2="383.50" y2="265.97" stroke="#dcdcdc" stroke-width="0.5" stroke-dasharray="1.2 1.2"/>
<line x1="258.50" y1="250.80" x2="383.50" y2="250.80" stroke="#dcdcdc" stroke-width="0.5" stroke-dasharray="1.2 1.2"/>
<line x1="258.50" y1="235.63" x2="383.50" y2="235.63" stroke="#dcdcdc" stroke-width="0.5" stroke-dasharray="1.2 1.2"/>
<line x1="258.50" y1="220.47" x2="383.50" y2="220.47" stroke="#dcdcdc" stroke-width="0.5" stroke-dasharray="1.2 1.2"/>
<line x1="271.00" y1="205.30" x2="271.00" y2="341.80" stroke="#dcdcdc" stroke-width="0.5" stroke-dasharray="1.2 1.2"/>
<line x1="283.50" y1="205.30" x2="283.50" y2="341.80" stroke="#dcdcdc" stroke-width="0.5" stroke-dasharray="1.2 1.2"/>
<line x1="296.00" y1="205.30" x2="296.00" y2="341.80" stroke="#dcdcdc" stroke-width="0.5" stroke-dasharray="1.2 1.2"/>
<line x1="308.50" y1="205.30" x2="308.50" y2="341.80" stroke="#dcdcdc" stroke-width="0.5" stroke-dasharray="1.2 1.2"/>
<line x1="321.00" y1="205.30" x2="321.00" y2="341.80" stroke="#dcdcdc" stroke-width="0.5" stroke-dasharray="1.2 1.2"/>
<line x1="333.50" y1="205.30" x2="333.50" y2="341.80" stroke="#dcdcdc" stroke-width="0.5" stroke-dasharray="1.2 1.2"/>
<line x1="346.00" y1="205.30" x2="346.00" y2="341.80" stroke="#dcdcdc" stroke-width="0.5" stroke-dasharray="1.2 1.2"/>
<line x1="358.50" y1="205.30" x2="358.50" y2="341.80" stroke="#dcdcdc" stroke-width="0.5" stroke-dasharray="1.2 1.2"/>
<line x1="371.00" y1="205.30" x2="371.00" y2="341.80" stroke="#dcdcdc" stroke-width="0.5" stroke-dasharray="1.2 1.2"/>
<circle cx="270.70" cy="224.70" r="1.55" fill="#b8423e" fill-opacity="0.75" stroke="#b8423e" stroke-width="0.8"/>
<circle cx="269.40" cy="226.50" r="1.55" fill="#b8423e" fill-opacity="0.75" stroke="#b8423e" stroke-width="0.8"/>
<circle cx="268.10" cy="228.20" r="1.55" fill="#b8423e" fill-opacity="0.75" stroke="#b8423e" stroke-width="0.8"/>
<circle cx="267.20" cy="229.10" r="1.55" fill="#b8423e" fill-opacity="0.75" stroke="#b8423e" stroke-width="0.8"/>
<circle cx="273.30" cy="230.80" r="1.55" fill="#b8423e" fill-opacity="0.75" stroke="#b8423e" stroke-width="0.8"/>
<circle cx="271.60" cy="231.70" r="1.55" fill="#b8423e" fill-opacity="0.75" stroke="#b8423e" stroke-width="0.8"/>
<circle cx="268.50" cy="233.00" r="1.55" fill="#b8423e" fill-opacity="0.75" stroke="#b8423e" stroke-width="0.8"/>
<circle cx="270.30" cy="233.50" r="1.55" fill="#b8423e" fill-opacity="0.75" stroke="#b8423e" stroke-width="0.8"/>
<circle cx="270.30" cy="237.80" r="1.55" fill="#b8423e" fill-opacity="0.75" stroke="#b8423e" stroke-width="0.8"/>
<circle cx="292.20" cy="226.90" r="1.55" fill="#e8c53c" fill-opacity="0.75" stroke="#e8c53c" stroke-width="0.8"/>
<circle cx="293.50" cy="230.40" r="1.55" fill="#e8c53c" fill-opacity="0.75" stroke="#e8c53c" stroke-width="0.8"/>
<circle cx="295.70" cy="230.80" r="1.55" fill="#e8c53c" fill-opacity="0.75" stroke="#e8c53c" stroke-width="0.8"/>
<circle cx="297.40" cy="231.30" r="1.55" fill="#e8c53c" fill-opacity="0.75" stroke="#e8c53c" stroke-width="0.8"/>
<circle cx="295.70" cy="233.00" r="1.55" fill="#e8c53c" fill-opacity="0.75" stroke="#e8c53c" stroke-width="0.8"/>
<circle cx="297.00" cy="234.80" r="1.55" fill="#e8c53c" fill-opacity="0.75" stroke="#e8c53c" stroke-width="0.8"/>
<circle cx="294.80" cy="235.20" r="1.55" fill="#e8c53c" fill-opacity="0.75" stroke="#e8c53c" stroke-width="0.8"/>
<circle cx="296.50" cy="237.40" r="1.55" fill="#e8c53c" fill-opacity="0.75" stroke="#e8c53c" stroke-width="0.8"/>
<circle cx="294.30" cy="238.70" r="1.55" fill="#e8c53c" fill-opacity="0.75" stroke="#e8c53c" stroke-width="0.8"/>
<circle cx="320.40" cy="304.50" r="1.55" fill="#3f5a7e" fill-opacity="0.75" stroke="#3f5a7e" stroke-width="0.8"/>
<circle cx="320.40" cy="306.10" r="1.55" fill="#3f5a7e" fill-opacity="0.75" stroke="#3f5a7e" stroke-width="0.8"/>
<circle cx="318.20" cy="310.00" r="1.55" fill="#3f5a7e" fill-opacity="0.75" stroke="#3f5a7e" stroke-width="0.8"/>
<circle cx="322.00" cy="309.40" r="1.55" fill="#3f5a7e" fill-opacity="0.75" stroke="#3f5a7e" stroke-width="0.8"/>
<circle cx="323.70" cy="310.50" r="1.55" fill="#3f5a7e" fill-opacity="0.75" stroke="#3f5a7e" stroke-width="0.8"/>
<circle cx="320.40" cy="313.20" r="1.55" fill="#3f5a7e" fill-opacity="0.75" stroke="#3f5a7e" stroke-width="0.8"/>
<circle cx="319.90" cy="314.90" r="1.55" fill="#3f5a7e" fill-opacity="0.75" stroke="#3f5a7e" stroke-width="0.8"/>
<circle cx="322.00" cy="318.70" r="1.55" fill="#3f5a7e" fill-opacity="0.75" stroke="#3f5a7e" stroke-width="0.8"/>
<circle cx="345.00" cy="310.00" r="1.55" fill="#1f97a9" fill-opacity="0.75" stroke="#1f97a9" stroke-width="0.8"/>
<circle cx="343.40" cy="312.20" r="1.55" fill="#1f97a9" fill-opacity="0.75" stroke="#1f97a9" stroke-width="0.8"/>
<circle cx="345.60" cy="314.90" r="1.55" fill="#1f97a9" fill-opacity="0.75" stroke="#1f97a9" stroke-width="0.8"/>
<circle cx="347.80" cy="316.50" r="1.55" fill="#1f97a9" fill-opacity="0.75" stroke="#1f97a9" stroke-width="0.8"/>
<circle cx="343.40" cy="318.20" r="1.55" fill="#1f97a9" fill-opacity="0.75" stroke="#1f97a9" stroke-width="0.8"/>
<circle cx="345.60" cy="318.20" r="1.55" fill="#1f97a9" fill-opacity="0.75" stroke="#1f97a9" stroke-width="0.8"/>
<circle cx="347.20" cy="320.40" r="1.55" fill="#1f97a9" fill-opacity="0.75" stroke="#1f97a9" stroke-width="0.8"/>
<circle cx="344.50" cy="323.70" r="1.55" fill="#1f97a9" fill-opacity="0.75" stroke="#1f97a9" stroke-width="0.8"/>
<circle cx="369.10" cy="281.50" r="1.55" fill="#48ba6c" fill-opacity="0.75" stroke="#48ba6c" stroke-width="0.8"/>
<circle cx="370.80" cy="285.30" r="1.55" fill="#48ba6c" fill-opacity="0.75" stroke="#48ba6c" stroke-width="0.8"/>
<circle cx="369.70" cy="287.00" r="1.55" fill="#48ba6c" fill-opacity="0.75" stroke="#48ba6c" stroke-width="0.8"/>
<circle cx="373.00" cy="288.10" r="1.55" fill="#48ba6c" fill-opacity="0.75" stroke="#48ba6c" stroke-width="0.8"/>
<circle cx="374.10" cy="289.70" r="1.55" fill="#48ba6c" fill-opacity="0.75" stroke="#48ba6c" stroke-width="0.8"/>
<circle cx="370.20" cy="290.30" r="1.55" fill="#48ba6c" fill-opacity="0.75" stroke="#48ba6c" stroke-width="0.8"/>
<circle cx="371.30" cy="289.20" r="1.55" fill="#48ba6c" fill-opacity="0.75" stroke="#48ba6c" stroke-width="0.8"/>
<rect x="258.50" y="205.30" width="125.00" height="136.50" fill="none" stroke="#1a1a1a" stroke-width="1.1"/>
<line x1="255.50" y1="341.80" x2="258.50" y2="341.80" stroke="#1a1a1a" stroke-width="1"/>
<text x="255.00" y="345.60" font-family="'Liberation Serif', serif" font-size="11" font-weight="normal" font-style="normal" fill="#000" text-anchor="end">60</text>
<line x1="256.50" y1="326.63" x2="258.50" y2="326.63" stroke="#1a1a1a" stroke-width="1"/>
<line x1="255.50" y1="311.47" x2="258.50" y2="311.47" stroke="#1a1a1a" stroke-width="1"/>
<text x="255.00" y="315.27" font-family="'Liberation Serif', serif" font-size="11" font-weight="normal" font-style="normal" fill="#000" text-anchor="end">70</text>
<line x1="256.50" y1="296.30" x2="258.50" y2="296.30" stroke="#1a1a1a" stroke-width="1"/>
<line x1="255.50" y1="281.13" x2="258.50" y2="281.13" stroke="#1a1a1a" stroke-width="1"/>
<text x="255.00" y="284.93" font-family="'Liberation Serif', serif" font-size="11" font-weight="normal" font-style="normal" fill="#000" text-anchor="end">80</text>
<line x1="256.50" y1="265.97" x2="258.50" y2="265.97" stroke="#1a1a1a" stroke-width="1"/>
<line x1="255.50" y1="250.80" x2="258.50" y2="250.80" stroke="#1a1a1a" stroke-width="1"/>
<text x="255.00" y="254.60" font-family="'Liberation Serif', serif" font-size="11" font-weight="normal" font-style="normal" fill="#000" text-anchor="end">90</text>
<line x1="256.50" y1="235.63" x2="258.50" y2="235.63" stroke="#1a1a1a" stroke-width="1"/>
<line x1="255.50" y1="220.47" x2="258.50" y2="220.47" stroke="#1a1a1a" stroke-width="1"/>
<text x="255.00" y="224.27" font-family="'Liberation Serif', serif" font-size="11" font-weight="normal" font-style="normal" fill="#000" text-anchor="end">100</text>
<line x1="256.50" y1="205.30" x2="258.50" y2="205.30" stroke="#1a1a1a" stroke-width="1"/>
<line x1="271.00" y1="341.80" x2="271.00" y2="344.30" stroke="#1a1a1a" stroke-width="1"/>
<text x="271.00" y="354.60" font-family="'Liberation Serif', serif" font-size="10" font-weight="bold" font-style="italic" fill="#000" text-anchor="middle">a</text>
<line x1="296.00" y1="341.80" x2="296.00" y2="344.30" stroke="#1a1a1a" stroke-width="1"/>
<text x="296.00" y="354.60" font-family="'Liberation Serif', serif" font-size="10" font-weight="bold" font-style="italic" fill="#000" text-anchor="middle">k</text>
<line x1="321.00" y1="341.80" x2="321.00" y2="344.30" stroke="#1a1a1a" stroke-width="1"/>
<text x="321.00" y="354.60" font-family="'Liberation Serif', serif" font-size="10" font-weight="bold" font-style="italic" fill="#000" text-anchor="middle">r</text>
<line x1="346.00" y1="341.80" x2="346.00" y2="344.30" stroke="#1a1a1a" stroke-width="1"/>
<text x="346.00" y="354.60" font-family="'Liberation Serif', serif" font-size="10" font-weight="bold" font-style="italic" fill="#000" text-anchor="middle">v</text>
<line x1="371.00" y1="341.80" x2="371.00" y2="344.30" stroke="#1a1a1a" stroke-width="1"/>
<text x="371.00" y="354.60" font-family="'Liberation Serif', serif" font-size="10" font-weight="bold" font-style="italic" fill="#000" text-anchor="middle">m</text>
<text x="323.40" y="365.30" font-family="'Liberation Serif', serif" font-size="12" font-weight="normal" font-style="normal" fill="#000" text-anchor="middle" textLength="32.7" lengthAdjust="spacingAndGlyphs">indices</text>
<text x="241.50" y="273.55" font-family="'Liberation Serif', serif" font-size="12.5" font-weight="normal" font-style="normal" fill="#000" text-anchor="middle" textLength="75" lengthAdjust="spacingAndGlyphs" transform="rotate(-90 241.5 273.55)">Repair rate (%)</text>
<text x="380.70" y="220.50" font-family="'Liberation Serif', serif" font-size="11.5" font-weight="normal" font-style="normal" fill="#000" text-anchor="end" textLength="19.6" lengthAdjust="spacingAndGlyphs">30 d</text>
<rect x="258.50" y="386.80" width="25.00" height="136.70" fill="#fcf1f1" stroke="none" stroke-width="1"/>
<rect x="283.50" y="386.80" width="25.00" height="136.70" fill="#fffbf2" stroke="none" stroke-width="1"/>
<rect x="308.50" y="386.80" width="25.00" height="136.70" fill="#f0f4f9" stroke="none" stroke-width="1"/>
<rect x="333.50" y="386.80" width="25.00" height="136.70" fill="#ebfafc" stroke="none" stroke-width="1"/>
<rect x="358.50" y="386.80" width="25.00" height="136.70" fill="#f0f9f4" stroke="none" stroke-width="1"/>
<line x1="258.50" y1="511.07" x2="383.50" y2="511.07" stroke="#dcdcdc" stroke-width="0.5" stroke-dasharray="1.2 1.2"/>
<line x1="258.50" y1="498.65" x2="383.50" y2="498.65" stroke="#dcdcdc" stroke-width="0.5" stroke-dasharray="1.2 1.2"/>
<line x1="258.50" y1="486.22" x2="383.50" y2="486.22" stroke="#dcdcdc" stroke-width="0.5" stroke-dasharray="1.2 1.2"/>
<line x1="258.50" y1="473.79" x2="383.50" y2="473.79" stroke="#dcdcdc" stroke-width="0.5" stroke-dasharray="1.2 1.2"/>
<line x1="258.50" y1="461.36" x2="383.50" y2="461.36" stroke="#dcdcdc" stroke-width="0.5" stroke-dasharray="1.2 1.2"/>
<line x1="258.50" y1="448.94" x2="383.50" y2="448.94" stroke="#dcdcdc" stroke-width="0.5" stroke-dasharray="1.2 1.2"/>
<line x1="258.50" y1="436.51" x2="383.50" y2="436.51" stroke="#dcdcdc" stroke-width="0.5" stroke-dasharray="1.2 1.2"/>
<line x1="258.50" y1="424.08" x2="383.50" y2="424.08" stroke="#dcdcdc" stroke-width="0.5" stroke-dasharray="1.2 1.2"/>
<line x1="258.50" y1="411.65" x2="383.50" y2="411.65" stroke="#dcdcdc" stroke-width="0.5" stroke-dasharray="1.2 1.2"/>
<line x1="258.50" y1="399.23" x2="383.50" y2="399.23" stroke="#dcdcdc" stroke-width="0.5" stroke-dasharray="1.2 1.2"/>
<line x1="271.00" y1="386.80" x2="271.00" y2="523.50" stroke="#dcdcdc" stroke-width="0.5" stroke-dasharray="1.2 1.2"/>
<line x1="283.50" y1="386.80" x2="283.50" y2="523.50" stroke="#dcdcdc" stroke-width="0.5" stroke-dasharray="1.2 1.2"/>
<line x1="296.00" y1="386.80" x2="296.00" y2="523.50" stroke="#dcdcdc" stroke-width="0.5" stroke-dasharray="1.2 1.2"/>
<line x1="308.50" y1="386.80" x2="308.50" y2="523.50" stroke="#dcdcdc" stroke-width="0.5" stroke-dasharray="1.2 1.2"/>
<line x1="321.00" y1="386.80" x2="321.00" y2="523.50" stroke="#dcdcdc" stroke-width="0.5" stroke-dasharray="1.2 1.2"/>
<line x1="333.50" y1="386.80" x2="333.50" y2="523.50" stroke="#dcdcdc" stroke-width="0.5" stroke-dasharray="1.2 1.2"/>
<line x1="346.00" y1="386.80" x2="346.00" y2="523.50" stroke="#dcdcdc" stroke-width="0.5" stroke-dasharray="1.2 1.2"/>
<line x1="358.50" y1="386.80" x2="358.50" y2="523.50" stroke="#dcdcdc" stroke-width="0.5" stroke-dasharray="1.2 1.2"/>
<line x1="371.00" y1="386.80" x2="371.00" y2="523.50" stroke="#dcdcdc" stroke-width="0.5" stroke-dasharray="1.2 1.2"/>
<circle cx="270.30" cy="410.80" r="1.55" fill="#b8423e" fill-opacity="0.45" stroke="#b8423e" stroke-width="0.8"/>
<circle cx="268.50" cy="412.50" r="1.55" fill="#b8423e" fill-opacity="0.45" stroke="#b8423e" stroke-width="0.8"/>
<circle cx="267.20" cy="413.80" r="1.55" fill="#b8423e" fill-opacity="0.45" stroke="#b8423e" stroke-width="0.8"/>
<circle cx="269.40" cy="414.70" r="1.55" fill="#b8423e" fill-opacity="0.45" stroke="#b8423e" stroke-width="0.8"/>
<circle cx="271.60" cy="415.10" r="1.55" fill="#b8423e" fill-opacity="0.45" stroke="#b8423e" stroke-width="0.8"/>
<circle cx="273.80" cy="415.60" r="1.55" fill="#b8423e" fill-opacity="0.45" stroke="#b8423e" stroke-width="0.8"/>
<circle cx="268.50" cy="416.90" r="1.55" fill="#b8423e" fill-opacity="0.45" stroke="#b8423e" stroke-width="0.8"/>
<circle cx="270.30" cy="418.20" r="1.55" fill="#b8423e" fill-opacity="0.45" stroke="#b8423e" stroke-width="0.8"/>
<circle cx="269.80" cy="420.00" r="1.55" fill="#b8423e" fill-opacity="0.45" stroke="#b8423e" stroke-width="0.8"/>
<circle cx="292.20" cy="413.00" r="1.55" fill="#e8c53c" fill-opacity="0.45" stroke="#e8c53c" stroke-width="0.8"/>
<circle cx="293.90" cy="414.70" r="1.55" fill="#e8c53c" fill-opacity="0.45" stroke="#e8c53c" stroke-width="0.8"/>
<circle cx="297.40" cy="414.70" r="1.55" fill="#e8c53c" fill-opacity="0.45" stroke="#e8c53c" stroke-width="0.8"/>
<circle cx="296.50" cy="416.90" r="1.55" fill="#e8c53c" fill-opacity="0.45" stroke="#e8c53c" stroke-width="0.8"/>
<circle cx="294.80" cy="418.20" r="1.55" fill="#e8c53c" fill-opacity="0.45" stroke="#e8c53c" stroke-width="0.8"/>
<circle cx="296.50" cy="419.50" r="1.55" fill="#e8c53c" fill-opacity="0.45" stroke="#e8c53c" stroke-width="0.8"/>
<circle cx="294.30" cy="420.80" r="1.55" fill="#e8c53c" fill-opacity="0.45" stroke="#e8c53c" stroke-width="0.8"/>
<circle cx="319.90" cy="493.90" r="1.55" fill="#3f5a7e" fill-opacity="0.45" stroke="#3f5a7e" stroke-width="0.8"/>
<circle cx="318.20" cy="495.60" r="1.55" fill="#3f5a7e" fill-opacity="0.45" stroke="#3f5a7e" stroke-width="0.8"/>
<circle cx="321.00" cy="496.10" r="1.55" fill="#3f5a7e" fill-opacity="0.45" stroke="#3f5a7e" stroke-width="0.8"/>
<circle cx="323.10" cy="496.70" r="1.55" fill="#3f5a7e" fill-opacity="0.45" stroke="#3f5a7e" stroke-width="0.8"/>
<circle cx="320.40" cy="498.30" r="1.55" fill="#3f5a7e" fill-opacity="0.45" stroke="#3f5a7e" stroke-width="0.8"/>
<circle cx="322.00" cy="497.80" r="1.55" fill="#3f5a7e" fill-opacity="0.45" stroke="#3f5a7e" stroke-width="0.8"/>
<circle cx="345.60" cy="494.50" r="1.55" fill="#1f97a9" fill-opacity="0.45" stroke="#1f97a9" stroke-width="0.8"/>
<circle cx="343.40" cy="496.10" r="1.55" fill="#1f97a9" fill-opacity="0.45" stroke="#1f97a9" stroke-width="0.8"/>
<circle cx="347.20" cy="496.70" r="1.55" fill="#1f97a9" fill-opacity="0.45" stroke="#1f97a9" stroke-width="0.8"/>
<circle cx="344.50" cy="498.30" r="1.55" fill="#1f97a9" fill-opacity="0.45" stroke="#1f97a9" stroke-width="0.8"/>
<circle cx="348.30" cy="497.80" r="1.55" fill="#1f97a9" fill-opacity="0.45" stroke="#1f97a9" stroke-width="0.8"/>
<circle cx="346.10" cy="498.30" r="1.55" fill="#1f97a9" fill-opacity="0.45" stroke="#1f97a9" stroke-width="0.8"/>
<circle cx="369.10" cy="471.00" r="1.55" fill="#48ba6c" fill-opacity="0.45" stroke="#48ba6c" stroke-width="0.8"/>
<circle cx="371.30" cy="470.40" r="1.55" fill="#48ba6c" fill-opacity="0.45" stroke="#48ba6c" stroke-width="0.8"/>
<circle cx="374.10" cy="471.00" r="1.55" fill="#48ba6c" fill-opacity="0.45" stroke="#48ba6c" stroke-width="0.8"/>
<circle cx="370.80" cy="473.10" r="1.55" fill="#48ba6c" fill-opacity="0.45" stroke="#48ba6c" stroke-width="0.8"/>
<circle cx="371.30" cy="475.30" r="1.55" fill="#48ba6c" fill-opacity="0.45" stroke="#48ba6c" stroke-width="0.8"/>
<circle cx="370.20" cy="477.50" r="1.55" fill="#48ba6c" fill-opacity="0.45" stroke="#48ba6c" stroke-width="0.8"/>
<circle cx="369.70" cy="480.30" r="1.55" fill="#48ba6c" fill-opacity="0.45" stroke="#48ba6c" stroke-width="0.8"/>
<circle cx="370.80" cy="479.20" r="1.55" fill="#48ba6c" fill-opacity="0.45" stroke="#48ba6c" stroke-width="0.8"/>
<rect x="258.50" y="386.80" width="125.00" height="136.70" fill="none" stroke="#1a1a1a" stroke-width="1.1"/>
<line x1="255.50" y1="523.50" x2="258.50" y2="523.50" stroke="#1a1a1a" stroke-width="1"/>
<text x="255.00" y="527.30" font-family="'Liberation Serif', serif" font-size="11" font-weight="normal" font-style="normal" fill="#000" text-anchor="end">50</text>
<line x1="256.50" y1="511.07" x2="258.50" y2="511.07" stroke="#1a1a1a" stroke-width="1"/>
<line x1="255.50" y1="498.65" x2="258.50" y2="498.65" stroke="#1a1a1a" stroke-width="1"/>
<text x="255.00" y="502.45" font-family="'Liberation Serif', serif" font-size="11" font-weight="normal" font-style="normal" fill="#000" text-anchor="end">60</text>
<line x1="256.50" y1="486.22" x2="258.50" y2="486.22" stroke="#1a1a1a" stroke-width="1"/>
<line x1="255.50" y1="473.79" x2="258.50" y2="473.79" stroke="#1a1a1a" stroke-width="1"/>
<text x="255.00" y="477.59" font-family="'Liberation Serif', serif" font-size="11" font-weight="normal" font-style="normal" fill="#000" text-anchor="end">70</text>
<line x1="256.50" y1="461.36" x2="258.50" y2="461.36" stroke="#1a1a1a" stroke-width="1"/>
<line x1="255.50" y1="448.94" x2="258.50" y2="448.94" stroke="#1a1a1a" stroke-width="1"/>
<text x="255.00" y="452.74" font-family="'Liberation Serif', serif" font-size="11" font-weight="normal" font-style="normal" fill="#000" text-anchor="end">80</text>
<line x1="256.50" y1="436.51" x2="258.50" y2="436.51" stroke="#1a1a1a" stroke-width="1"/>
<line x1="255.50" y1="424.08" x2="258.50" y2="424.08" stroke="#1a1a1a" stroke-width="1"/>
<text x="255.00" y="427.88" font-family="'Liberation Serif', serif" font-size="11" font-weight="normal" font-style="normal" fill="#000" text-anchor="end">90</text>
<line x1="256.50" y1="411.65" x2="258.50" y2="411.65" stroke="#1a1a1a" stroke-width="1"/>
<line x1="255.50" y1="399.23" x2="258.50" y2="399.23" stroke="#1a1a1a" stroke-width="1"/>
<text x="255.00" y="403.03" font-family="'Liberation Serif', serif" font-size="11" font-weight="normal" font-style="normal" fill="#000" text-anchor="end">100</text>
<line x1="256.50" y1="386.80" x2="258.50" y2="386.80" stroke="#1a1a1a" stroke-width="1"/>
<line x1="271.00" y1="523.50" x2="271.00" y2="526.00" stroke="#1a1a1a" stroke-width="1"/>
<text x="271.00" y="536.30" font-family="'Liberation Serif', serif" font-size="10" font-weight="bold" font-style="italic" fill="#000" text-anchor="middle">a</text>
<line x1="296.00" y1="523.50" x2="296.00" y2="526.00" stroke="#1a1a1a" stroke-width="1"/>
<text x="296.00" y="536.30" font-family="'Liberation Serif', serif" font-size="10" font-weight="bold" font-style="italic" fill="#000" text-anchor="middle">k</text>
<line x1="321.00" y1="523.50" x2="321.00" y2="526.00" stroke="#1a1a1a" stroke-width="1"/>
<text x="321.00" y="536.30" font-family="'Liberation Serif', serif" font-size="10" font-weight="bold" font-style="italic" fill="#000" text-anchor="middle">r</text>
<line x1="346.00" y1="523.50" x2="346.00" y2="526.00" stroke="#1a1a1a" stroke-width="1"/>
<text x="346.00" y="536.30" font-family="'Liberation Serif', serif" font-size="10" font-weight="bold" font-style="italic" fill="#000" text-anchor="middle">v</text>
<line x1="371.00" y1="523.50" x2="371.00" y2="526.00" stroke="#1a1a1a" stroke-width="1"/>
<text x="371.00" y="536.30" font-family="'Liberation Serif', serif" font-size="10" font-weight="bold" font-style="italic" fill="#000" text-anchor="middle">m</text>
<text x="323.40" y="547.00" font-family="'Liberation Serif', serif" font-size="12" font-weight="normal" font-style="normal" fill="#000" text-anchor="middle" textLength="32.7" lengthAdjust="spacingAndGlyphs">indices</text>
<text x="241.50" y="455.15" font-family="'Liberation Serif', serif" font-size="12.5" font-weight="normal" font-style="normal" fill="#000" text-anchor="middle" textLength="75" lengthAdjust="spacingAndGlyphs" transform="rotate(-90 241.5 455.15)">Repair rate (%)</text>
<text x="380.70" y="402.00" font-family="'Liberation Serif', serif" font-size="11.5" font-weight="normal" font-style="normal" fill="#000" text-anchor="end" textLength="19.6" lengthAdjust="spacingAndGlyphs">20 d</text>
<line x1="455.00" y1="140.03" x2="652.50" y2="140.03" stroke="#e0e0e0" stroke-width="0.6" stroke-dasharray="2 1.5"/>
<line x1="455.00" y1="129.86" x2="652.50" y2="129.86" stroke="#e0e0e0" stroke-width="0.7"/>
<line x1="455.00" y1="119.69" x2="652.50" y2="119.69" stroke="#e0e0e0" stroke-width="0.6" stroke-dasharray="2 1.5"/>
<line x1="455.00" y1="109.52" x2="652.50" y2="109.52" stroke="#e0e0e0" stroke-width="0.7"/>
<line x1="455.00" y1="99.35" x2="652.50" y2="99.35" stroke="#e0e0e0" stroke-width="0.6" stroke-dasharray="2 1.5"/>
<line x1="455.00" y1="89.18" x2="652.50" y2="89.18" stroke="#e0e0e0" stroke-width="0.7"/>
<line x1="455.00" y1="79.01" x2="652.50" y2="79.01" stroke="#e0e0e0" stroke-width="0.6" stroke-dasharray="2 1.5"/>
<line x1="455.00" y1="68.84" x2="652.50" y2="68.84" stroke="#e0e0e0" stroke-width="0.7"/>
<line x1="455.00" y1="58.67" x2="652.50" y2="58.67" stroke="#e0e0e0" stroke-width="0.6" stroke-dasharray="2 1.5"/>
<line x1="465.97" y1="48.50" x2="465.97" y2="150.20" stroke="#dcdcdc" stroke-width="0.6" stroke-dasharray="1.6 1.2"/>
<line x1="487.92" y1="48.50" x2="487.92" y2="150.20" stroke="#dcdcdc" stroke-width="0.6" stroke-dasharray="1.6 1.2"/>
<line x1="509.86" y1="48.50" x2="509.86" y2="150.20" stroke="#dcdcdc" stroke-width="0.6" stroke-dasharray="1.6 1.2"/>
<line x1="531.81" y1="48.50" x2="531.81" y2="150.20" stroke="#dcdcdc" stroke-width="0.6" stroke-dasharray="1.6 1.2"/>
<line x1="553.75" y1="48.50" x2="553.75" y2="150.20" stroke="#dcdcdc" stroke-width="0.6" stroke-dasharray="1.6 1.2"/>
<line x1="575.69" y1="48.50" x2="575.69" y2="150.20" stroke="#dcdcdc" stroke-width="0.6" stroke-dasharray="1.6 1.2"/>
<line x1="597.64" y1="48.50" x2="597.64" y2="150.20" stroke="#dcdcdc" stroke-width="0.6" stroke-dasharray="1.6 1.2"/>
<line x1="619.58" y1="48.50" x2="619.58" y2="150.20" stroke="#dcdcdc" stroke-width="0.6" stroke-dasharray="1.6 1.2"/>
<line x1="641.53" y1="48.50" x2="641.53" y2="150.20" stroke="#dcdcdc" stroke-width="0.6" stroke-dasharray="1.6 1.2"/>
<rect x="457.47" y="141.56" width="17.00" height="8.64" fill="#7ebfa9" stroke="#222" stroke-width="0.9"/>
<rect x="479.42" y="136.67" width="17.00" height="13.53" fill="#7ebfa9" stroke="#222" stroke-width="0.9"/>
<rect x="501.36" y="147.96" width="17.00" height="2.24" fill="#7ebfa9" stroke="#222" stroke-width="0.9"/>
<rect x="523.31" y="146.74" width="17.00" height="3.46" fill="#7ebfa9" stroke="#222" stroke-width="0.9"/>
<rect x="545.25" y="140.64" width="17.00" height="9.56" fill="#7ebfa9" stroke="#222" stroke-width="0.9"/>
<rect x="567.19" y="144.50" width="17.00" height="5.70" fill="#7ebfa9" stroke="#222" stroke-width="0.9"/>
<rect x="589.14" y="148.88" width="17.00" height="1.32" fill="#7ebfa9" stroke="#222" stroke-width="0.9"/>
<rect x="611.08" y="140.23" width="17.00" height="9.97" fill="#7ebfa9" stroke="#222" stroke-width="0.9"/>
<rect x="633.03" y="146.74" width="17.00" height="3.46" fill="#7ebfa9" stroke="#222" stroke-width="0.9"/>
<polyline points="465.97,90.71 487.92,88.47 509.86,89.38 531.81,90.71 553.75,91.11 575.69,88.47 597.64,90.30 619.58,89.79 641.53,88.98" fill="none" stroke="#64a3b6" stroke-width="1.1"/>
<circle cx="465.97" cy="90.71" r="2.5" fill="#cfe5ea" fill-opacity="0.5" stroke="#64a3b6" stroke-width="1"/>
<circle cx="487.92" cy="88.47" r="2.5" fill="#cfe5ea" fill-opacity="0.5" stroke="#64a3b6" stroke-width="1"/>
<circle cx="509.86" cy="89.38" r="2.5" fill="#cfe5ea" fill-opacity="0.5" stroke="#64a3b6" stroke-width="1"/>
<circle cx="531.81" cy="90.71" r="2.5" fill="#cfe5ea" fill-opacity="0.5" stroke="#64a3b6" stroke-width="1"/>
<circle cx="553.75" cy="91.11" r="2.5" fill="#cfe5ea" fill-opacity="0.5" stroke="#64a3b6" stroke-width="1"/>
<circle cx="575.69" cy="88.47" r="2.5" fill="#cfe5ea" fill-opacity="0.5" stroke="#64a3b6" stroke-width="1"/>
<circle cx="597.64" cy="90.30" r="2.5" fill="#cfe5ea" fill-opacity="0.5" stroke="#64a3b6" stroke-width="1"/>
<circle cx="619.58" cy="89.79" r="2.5" fill="#cfe5ea" fill-opacity="0.5" stroke="#64a3b6" stroke-width="1"/>
<circle cx="641.53" cy="88.98" r="2.5" fill="#cfe5ea" fill-opacity="0.5" stroke="#64a3b6" stroke-width="1"/>
<g stroke="#7fb98a" stroke-width="1.0"><line x1="465.97" y1="88.41" x2="465.97" y2="94.01"/><line x1="468.40" y1="89.81" x2="463.55" y2="92.61"/><line x1="468.40" y1="92.61" x2="463.55" y2="89.81"/><line x1="463.45" y1="89.67" x2="468.49" y2="92.75"/><line x1="463.45" y1="92.75" x2="468.49" y2="89.67"/></g>
<g stroke="#7fb98a" stroke-width="1.0"><line x1="487.92" y1="87.19" x2="487.92" y2="92.79"/><line x1="490.34" y1="88.59" x2="485.49" y2="91.39"/><line x1="490.34" y1="91.39" x2="485.49" y2="88.59"/><line x1="485.40" y1="88.45" x2="490.44" y2="91.53"/><line x1="485.40" y1="91.53" x2="490.44" y2="88.45"/></g>
<g stroke="#7fb98a" stroke-width="1.0"><line x1="509.86" y1="86.89" x2="509.86" y2="92.49"/><line x1="512.29" y1="88.29" x2="507.44" y2="91.09"/><line x1="512.29" y1="91.09" x2="507.44" y2="88.29"/><line x1="507.34" y1="88.15" x2="512.38" y2="91.23"/><line x1="507.34" y1="91.23" x2="512.38" y2="88.15"/></g>
<g stroke="#7fb98a" stroke-width="1.0"><line x1="531.81" y1="88.41" x2="531.81" y2="94.01"/><line x1="534.23" y1="89.81" x2="529.38" y2="92.61"/><line x1="534.23" y1="92.61" x2="529.38" y2="89.81"/><line x1="529.29" y1="89.67" x2="534.33" y2="92.75"/><line x1="529.29" y1="92.75" x2="534.33" y2="89.67"/></g>
<g stroke="#7fb98a" stroke-width="1.0"><line x1="553.75" y1="88.11" x2="553.75" y2="93.71"/><line x1="556.17" y1="89.51" x2="551.33" y2="92.31"/><line x1="556.17" y1="92.31" x2="551.33" y2="89.51"/><line x1="551.23" y1="89.37" x2="556.27" y2="92.45"/><line x1="551.23" y1="92.45" x2="556.27" y2="89.37"/></g>
<g stroke="#7fb98a" stroke-width="1.0"><line x1="575.69" y1="86.38" x2="575.69" y2="91.98"/><line x1="578.12" y1="87.78" x2="573.27" y2="90.58"/><line x1="578.12" y1="90.58" x2="573.27" y2="87.78"/><line x1="573.17" y1="87.64" x2="578.21" y2="90.72"/><line x1="573.17" y1="90.72" x2="578.21" y2="87.64"/></g>
<g stroke="#7fb98a" stroke-width="1.0"><line x1="597.64" y1="87.60" x2="597.64" y2="93.20"/><line x1="600.06" y1="89.00" x2="595.21" y2="91.80"/><line x1="600.06" y1="91.80" x2="595.21" y2="89.00"/><line x1="595.12" y1="88.86" x2="600.16" y2="91.94"/><line x1="595.12" y1="91.94" x2="600.16" y2="88.86"/></g>
<g stroke="#7fb98a" stroke-width="1.0"><line x1="619.58" y1="88.11" x2="619.58" y2="93.71"/><line x1="622.01" y1="89.51" x2="617.16" y2="92.31"/><line x1="622.01" y1="92.31" x2="617.16" y2="89.51"/><line x1="617.06" y1="89.37" x2="622.10" y2="92.45"/><line x1="617.06" y1="92.45" x2="622.10" y2="89.37"/></g>
<g stroke="#7fb98a" stroke-width="1.0"><line x1="641.53" y1="86.58" x2="641.53" y2="92.18"/><line x1="643.95" y1="87.98" x2="639.10" y2="90.78"/><line x1="643.95" y1="90.78" x2="639.10" y2="87.98"/><line x1="639.01" y1="87.84" x2="644.05" y2="90.92"/><line x1="639.01" y1="90.92" x2="644.05" y2="87.84"/></g>
<line x1="457.50" y1="58.90" x2="473.80" y2="58.90" stroke="#64a3b6" stroke-width="1.1"/>
<circle cx="465.8" cy="58.9" r="2.6" fill="#fff" stroke="#64a3b6" stroke-width="1"/>
<text x="476.80" y="61.90" font-family="'Liberation Serif', serif" font-size="9" font-weight="normal" font-style="normal" fill="#000" text-anchor="start" textLength="36" lengthAdjust="spacingAndGlyphs">Ture value</text>
<g stroke="#7fb98a" stroke-width="1.0"><line x1="465.80" y1="69.80" x2="465.80" y2="75.40"/><line x1="468.22" y1="71.20" x2="463.38" y2="74.00"/><line x1="468.22" y1="74.00" x2="463.38" y2="71.20"/><line x1="463.28" y1="71.06" x2="468.32" y2="74.14"/><line x1="463.28" y1="74.14" x2="468.32" y2="71.06"/></g>
<text x="476.80" y="75.60" font-family="'Liberation Serif', serif" font-size="9" font-weight="normal" font-style="normal" fill="#000" text-anchor="start" textLength="52" lengthAdjust="spacingAndGlyphs">Predicted value</text>
<rect x="462.70" y="100.90" width="61.20" height="33.00" fill="#000" stroke="none" stroke-width="1"/>
<rect x="460.30" y="98.50" width="61.20" height="33.00" fill="#fff" stroke="#b8b8b8" stroke-width="0.7"/>
<text x="462.30" y="112.00" font-family="'Liberation Serif', serif" font-size="10.3" font-weight="normal" font-style="normal" fill="#000" text-anchor="start" textLength="53.3" lengthAdjust="spacingAndGlyphs">MAE=0.6834</text>
<text x="462.30" y="128.20" font-family="'Liberation Serif', serif" font-size="10.3" font-weight="normal" font-style="normal" fill="#000" text-anchor="start" textLength="58.4" lengthAdjust="spacingAndGlyphs">RMSE=0.7948</text>
<line x1="455.00" y1="48.50" x2="652.50" y2="48.50" stroke="#1a1a1a" stroke-width="1.1"/>
<line x1="455.00" y1="48.50" x2="455.00" y2="150.70" stroke="#1a1a1a" stroke-width="1.1"/>
<line x1="652.50" y1="48.50" x2="652.50" y2="150.70" stroke="#1a1a1a" stroke-width="1.1"/>
<line x1="454.50" y1="150.20" x2="653.00" y2="150.20" stroke="#1a1a1a" stroke-width="1.1"/>
<line x1="451.80" y1="150.20" x2="455.00" y2="150.20" stroke="#1a1a1a" stroke-width="1"/>
<line x1="652.50" y1="150.20" x2="655.70" y2="150.20" stroke="#1a1a1a" stroke-width="1"/>
<text x="450.30" y="153.80" font-family="'Liberation Serif', serif" font-size="10.5" font-weight="normal" font-style="normal" fill="#000" text-anchor="end">0</text>
<text x="658.30" y="153.80" font-family="'Liberation Serif', serif" font-size="10.5" font-weight="normal" font-style="normal" fill="#000" text-anchor="start">0</text>
<line x1="453.00" y1="140.03" x2="455.00" y2="140.03" stroke="#1a1a1a" stroke-width="1"/>
<line x1="652.50" y1="140.03" x2="654.50" y2="140.03" stroke="#1a1a1a" stroke-width="1"/>
<line x1="451.80" y1="129.86" x2="455.00" y2="129.86" stroke="#1a1a1a" stroke-width="1"/>
<line x1="652.50" y1="129.86" x2="655.70" y2="129.86" stroke="#1a1a1a" stroke-width="1"/>
<text x="450.30" y="133.46" font-family="'Liberation Serif', serif" font-size="10.5" font-weight="normal" font-style="normal" fill="#000" text-anchor="end">20</text>
<text x="658.30" y="133.46" font-family="'Liberation Serif', serif" font-size="10.5" font-weight="normal" font-style="normal" fill="#000" text-anchor="start">2</text>
<line x1="453.00" y1="119.69" x2="455.00" y2="119.69" stroke="#1a1a1a" stroke-width="1"/>
<line x1="652.50" y1="119.69" x2="654.50" y2="119.69" stroke="#1a1a1a" stroke-width="1"/>
<line x1="451.80" y1="109.52" x2="455.00" y2="109.52" stroke="#1a1a1a" stroke-width="1"/>
<line x1="652.50" y1="109.52" x2="655.70" y2="109.52" stroke="#1a1a1a" stroke-width="1"/>
<text x="450.30" y="113.12" font-family="'Liberation Serif', serif" font-size="10.5" font-weight="normal" font-style="normal" fill="#000" text-anchor="end">40</text>
<text x="658.30" y="113.12" font-family="'Liberation Serif', serif" font-size="10.5" font-weight="normal" font-style="normal" fill="#000" text-anchor="start">4</text>
<line x1="453.00" y1="99.35" x2="455.00" y2="99.35" stroke="#1a1a1a" stroke-width="1"/>
<line x1="652.50" y1="99.35" x2="654.50" y2="99.35" stroke="#1a1a1a" stroke-width="1"/>
<line x1="451.80" y1="89.18" x2="455.00" y2="89.18" stroke="#1a1a1a" stroke-width="1"/>
<line x1="652.50" y1="89.18" x2="655.70" y2="89.18" stroke="#1a1a1a" stroke-width="1"/>
<text x="450.30" y="92.78" font-family="'Liberation Serif', serif" font-size="10.5" font-weight="normal" font-style="normal" fill="#000" text-anchor="end">60</text>
<text x="658.30" y="92.78" font-family="'Liberation Serif', serif" font-size="10.5" font-weight="normal" font-style="normal" fill="#000" text-anchor="start">6</text>
<line x1="453.00" y1="79.01" x2="455.00" y2="79.01" stroke="#1a1a1a" stroke-width="1"/>
<line x1="652.50" y1="79.01" x2="654.50" y2="79.01" stroke="#1a1a1a" stroke-width="1"/>
<line x1="451.80" y1="68.84" x2="455.00" y2="68.84" stroke="#1a1a1a" stroke-width="1"/>
<line x1="652.50" y1="68.84" x2="655.70" y2="68.84" stroke="#1a1a1a" stroke-width="1"/>
<text x="450.30" y="72.44" font-family="'Liberation Serif', serif" font-size="10.5" font-weight="normal" font-style="normal" fill="#000" text-anchor="end">80</text>
<text x="658.30" y="72.44" font-family="'Liberation Serif', serif" font-size="10.5" font-weight="normal" font-style="normal" fill="#000" text-anchor="start">8</text>
<line x1="453.00" y1="58.67" x2="455.00" y2="58.67" stroke="#1a1a1a" stroke-width="1"/>
<line x1="652.50" y1="58.67" x2="654.50" y2="58.67" stroke="#1a1a1a" stroke-width="1"/>
<line x1="451.80" y1="48.50" x2="455.00" y2="48.50" stroke="#1a1a1a" stroke-width="1"/>
<line x1="652.50" y1="48.50" x2="655.70" y2="48.50" stroke="#1a1a1a" stroke-width="1"/>
<text x="450.30" y="52.10" font-family="'Liberation Serif', serif" font-size="10.5" font-weight="normal" font-style="normal" fill="#000" text-anchor="end">100</text>
<text x="658.30" y="52.10" font-family="'Liberation Serif', serif" font-size="10.5" font-weight="normal" font-style="normal" fill="#000" text-anchor="start">10</text>
<line x1="465.97" y1="150.20" x2="465.97" y2="153.00" stroke="#1a1a1a" stroke-width="1"/>
<text x="465.97" y="165.20" font-family="'Liberation Serif', serif" font-size="11" font-weight="normal" font-style="normal" fill="#000" text-anchor="middle">1</text>
<line x1="487.92" y1="150.20" x2="487.92" y2="153.00" stroke="#1a1a1a" stroke-width="1"/>
<text x="487.92" y="165.20" font-family="'Liberation Serif', serif" font-size="11" font-weight="normal" font-style="normal" fill="#000" text-anchor="middle">2</text>
<line x1="509.86" y1="150.20" x2="509.86" y2="153.00" stroke="#1a1a1a" stroke-width="1"/>
<text x="509.86" y="165.20" font-family="'Liberation Serif', serif" font-size="11" font-weight="normal" font-style="normal" fill="#000" text-anchor="middle">3</text>
<line x1="531.81" y1="150.20" x2="531.81" y2="153.00" stroke="#1a1a1a" stroke-width="1"/>
<text x="531.81" y="165.20" font-family="'Liberation Serif', serif" font-size="11" font-weight="normal" font-style="normal" fill="#000" text-anchor="middle">4</text>
<line x1="553.75" y1="150.20" x2="553.75" y2="153.00" stroke="#1a1a1a" stroke-width="1"/>
<text x="553.75" y="165.20" font-family="'Liberation Serif', serif" font-size="11" font-weight="normal" font-style="normal" fill="#000" text-anchor="middle">5</text>
<line x1="575.69" y1="150.20" x2="575.69" y2="153.00" stroke="#1a1a1a" stroke-width="1"/>
<text x="575.69" y="165.20" font-family="'Liberation Serif', serif" font-size="11" font-weight="normal" font-style="normal" fill="#000" text-anchor="middle">6</text>
<line x1="597.64" y1="150.20" x2="597.64" y2="153.00" stroke="#1a1a1a" stroke-width="1"/>
<text x="597.64" y="165.20" font-family="'Liberation Serif', serif" font-size="11" font-weight="normal" font-style="normal" fill="#000" text-anchor="middle">7</text>
<line x1="619.58" y1="150.20" x2="619.58" y2="153.00" stroke="#1a1a1a" stroke-width="1"/>
<text x="619.58" y="165.20" font-family="'Liberation Serif', serif" font-size="11" font-weight="normal" font-style="normal" fill="#000" text-anchor="middle">8</text>
<line x1="641.53" y1="150.20" x2="641.53" y2="153.00" stroke="#1a1a1a" stroke-width="1"/>
<text x="641.53" y="165.20" font-family="'Liberation Serif', serif" font-size="11" font-weight="normal" font-style="normal" fill="#000" text-anchor="middle">9</text>
<text x="551.50" y="175.80" font-family="'Liberation Serif', serif" font-size="12" font-weight="normal" font-style="normal" fill="#000" text-anchor="middle" textLength="68.5" lengthAdjust="spacingAndGlyphs">Serial number</text>
<text x="435.30" y="99.85" font-family="'Liberation Serif', serif" font-size="14" font-weight="normal" font-style="normal" fill="#000" text-anchor="middle" textLength="89.4" lengthAdjust="spacingAndGlyphs" transform="rotate(-90 435.3 99.85)">Repair rate (%)</text>
<text x="668.00" y="100.35" font-family="'Liberation Serif', serif" font-size="12.2" font-weight="normal" font-style="normal" fill="#000" text-anchor="middle" textLength="93.5" lengthAdjust="spacingAndGlyphs" transform="rotate(90 668 100.35)">Absolute error (AE)</text>
<text x="455.80" y="46.10" font-family="'Liberation Serif', serif" font-size="11.2" font-weight="normal" font-style="normal" fill="#000" text-anchor="start" textLength="70" lengthAdjust="spacingAndGlyphs">Repair for 10 d</text>
<line x1="455.00" y1="313.13" x2="652.50" y2="313.13" stroke="#e0e0e0" stroke-width="0.6" stroke-dasharray="2 1.5"/>
<line x1="455.00" y1="302.96" x2="652.50" y2="302.96" stroke="#e0e0e0" stroke-width="0.7"/>
<line x1="455.00" y1="292.79" x2="652.50" y2="292.79" stroke="#e0e0e0" stroke-width="0.6" stroke-dasharray="2 1.5"/>
<line x1="455.00" y1="282.62" x2="652.50" y2="282.62" stroke="#e0e0e0" stroke-width="0.7"/>
<line x1="455.00" y1="272.45" x2="652.50" y2="272.45" stroke="#e0e0e0" stroke-width="0.6" stroke-dasharray="2 1.5"/>
<line x1="455.00" y1="262.28" x2="652.50" y2="262.28" stroke="#e0e0e0" stroke-width="0.7"/>
<line x1="455.00" y1="252.11" x2="652.50" y2="252.11" stroke="#e0e0e0" stroke-width="0.6" stroke-dasharray="2 1.5"/>
<line x1="455.00" y1="241.94" x2="652.50" y2="241.94" stroke="#e0e0e0" stroke-width="0.7"/>
<line x1="455.00" y1="231.77" x2="652.50" y2="231.77" stroke="#e0e0e0" stroke-width="0.6" stroke-dasharray="2 1.5"/>
<line x1="465.97" y1="221.60" x2="465.97" y2="323.30" stroke="#dcdcdc" stroke-width="0.6" stroke-dasharray="1.6 1.2"/>
<line x1="487.92" y1="221.60" x2="487.92" y2="323.30" stroke="#dcdcdc" stroke-width="0.6" stroke-dasharray="1.6 1.2"/>
<line x1="509.86" y1="221.60" x2="509.86" y2="323.30" stroke="#dcdcdc" stroke-width="0.6" stroke-dasharray="1.6 1.2"/>
<line x1="531.81" y1="221.60" x2="531.81" y2="323.30" stroke="#dcdcdc" stroke-width="0.6" stroke-dasharray="1.6 1.2"/>
<line x1="553.75" y1="221.60" x2="553.75" y2="323.30" stroke="#dcdcdc" stroke-width="0.6" stroke-dasharray="1.6 1.2"/>
<line x1="575.69" y1="221.60" x2="575.69" y2="323.30" stroke="#dcdcdc" stroke-width="0.6" stroke-dasharray="1.6 1.2"/>
<line x1="597.64" y1="221.60" x2="597.64" y2="323.30" stroke="#dcdcdc" stroke-width="0.6" stroke-dasharray="1.6 1.2"/>
<line x1="619.58" y1="221.60" x2="619.58" y2="323.30" stroke="#dcdcdc" stroke-width="0.6" stroke-dasharray="1.6 1.2"/>
<line x1="641.53" y1="221.60" x2="641.53" y2="323.30" stroke="#dcdcdc" stroke-width="0.6" stroke-dasharray="1.6 1.2"/>
<rect x="457.47" y="315.37" width="17.00" height="7.93" fill="#e1d07e" stroke="#222" stroke-width="0.9"/>
<rect x="479.42" y="310.59" width="17.00" height="12.71" fill="#e1d07e" stroke="#222" stroke-width="0.9"/>
<rect x="501.36" y="322.79" width="17.00" height="0.51" fill="#e1d07e" stroke="#222" stroke-width="0.9"/>
<rect x="523.31" y="315.88" width="17.00" height="7.42" fill="#e1d07e" stroke="#222" stroke-width="0.9"/>
<rect x="545.25" y="316.28" width="17.00" height="7.02" fill="#e1d07e" stroke="#222" stroke-width="0.9"/>
<rect x="567.19" y="317.20" width="17.00" height="6.10" fill="#e1d07e" stroke="#222" stroke-width="0.9"/>
<rect x="589.14" y="317.20" width="17.00" height="6.10" fill="#e1d07e" stroke="#222" stroke-width="0.9"/>
<rect x="611.08" y="316.69" width="17.00" height="6.61" fill="#e1d07e" stroke="#222" stroke-width="0.9"/>
<rect x="633.03" y="313.74" width="17.00" height="9.56" fill="#e1d07e" stroke="#222" stroke-width="0.9"/>
<polyline points="465.97,250.89 487.92,250.48 509.86,249.26 531.81,250.48 553.75,250.08 575.69,250.48 597.64,249.26 619.58,249.67 641.53,250.48" fill="none" stroke="#d8879a" stroke-width="1.1"/>
<circle cx="465.97" cy="250.89" r="2.5" fill="#fbe8ec" fill-opacity="0.5" stroke="#d8879a" stroke-width="1"/>
<circle cx="487.92" cy="250.48" r="2.5" fill="#fbe8ec" fill-opacity="0.5" stroke="#d8879a" stroke-width="1"/>
<circle cx="509.86" cy="249.26" r="2.5" fill="#fbe8ec" fill-opacity="0.5" stroke="#d8879a" stroke-width="1"/>
<circle cx="531.81" cy="250.48" r="2.5" fill="#fbe8ec" fill-opacity="0.5" stroke="#d8879a" stroke-width="1"/>
<circle cx="553.75" cy="250.08" r="2.5" fill="#fbe8ec" fill-opacity="0.5" stroke="#d8879a" stroke-width="1"/>
<circle cx="575.69" cy="250.48" r="2.5" fill="#fbe8ec" fill-opacity="0.5" stroke="#d8879a" stroke-width="1"/>
<circle cx="597.64" cy="249.26" r="2.5" fill="#fbe8ec" fill-opacity="0.5" stroke="#d8879a" stroke-width="1"/>
<circle cx="619.58" cy="249.67" r="2.5" fill="#fbe8ec" fill-opacity="0.5" stroke="#d8879a" stroke-width="1"/>
<circle cx="641.53" cy="250.48" r="2.5" fill="#fbe8ec" fill-opacity="0.5" stroke="#d8879a" stroke-width="1"/>
<g stroke="#d1a624" stroke-width="1.3"><line x1="463.57222222222225" y1="248.693" x2="468.3722222222222" y2="253.49300000000002"/><line x1="463.57222222222225" y1="253.49300000000002" x2="468.3722222222222" y2="248.693"/><line x1="465.97222222222223" y1="248.45300000000003" x2="465.97222222222223" y2="253.733"/></g>
<g stroke="#d1a624" stroke-width="1.3"><line x1="485.5166666666667" y1="249.09980000000002" x2="490.31666666666666" y2="253.89980000000003"/><line x1="485.5166666666667" y1="253.89980000000003" x2="490.31666666666666" y2="249.09980000000002"/><line x1="487.9166666666667" y1="248.85980000000004" x2="487.9166666666667" y2="254.1398"/></g>
<g stroke="#d1a624" stroke-width="1.3"><line x1="507.4611111111111" y1="246.7607" x2="512.2611111111111" y2="251.56070000000003"/><line x1="507.4611111111111" y1="251.56070000000003" x2="512.2611111111111" y2="246.7607"/><line x1="509.8611111111111" y1="246.52070000000003" x2="509.8611111111111" y2="251.8007"/></g>
<g stroke="#d1a624" stroke-width="1.3"><line x1="529.4055555555556" y1="248.4896" x2="534.2055555555555" y2="253.2896"/><line x1="529.4055555555556" y1="253.2896" x2="534.2055555555555" y2="248.4896"/><line x1="531.8055555555555" y1="248.24960000000002" x2="531.8055555555555" y2="253.5296"/></g>
<g stroke="#d1a624" stroke-width="1.3"><line x1="551.35" y1="247.8794" x2="556.15" y2="252.67940000000002"/><line x1="551.35" y1="252.67940000000002" x2="556.15" y2="247.8794"/><line x1="553.75" y1="247.63940000000002" x2="553.75" y2="252.9194"/></g>
<g stroke="#d1a624" stroke-width="1.3"><line x1="573.2944444444445" y1="248.28619999999998" x2="578.0944444444444" y2="253.0862"/><line x1="573.2944444444445" y1="253.0862" x2="578.0944444444444" y2="248.28619999999998"/><line x1="575.6944444444445" y1="248.0462" x2="575.6944444444445" y2="253.32619999999997"/></g>
<g stroke="#d1a624" stroke-width="1.3"><line x1="595.2388888888889" y1="247.0658" x2="600.0388888888889" y2="251.8658"/><line x1="595.2388888888889" y1="251.8658" x2="600.0388888888889" y2="247.0658"/><line x1="597.6388888888889" y1="246.82580000000002" x2="597.6388888888889" y2="252.1058"/></g>
<g stroke="#d1a624" stroke-width="1.3"><line x1="617.1833333333333" y1="247.4726" x2="621.9833333333332" y2="252.2726"/><line x1="617.1833333333333" y1="252.2726" x2="621.9833333333332" y2="247.4726"/><line x1="619.5833333333333" y1="247.23260000000002" x2="619.5833333333333" y2="252.5126"/></g>
<g stroke="#d1a624" stroke-width="1.3"><line x1="639.1277777777779" y1="248.4896" x2="643.9277777777778" y2="253.2896"/><line x1="639.1277777777779" y1="253.2896" x2="643.9277777777778" y2="248.4896"/><line x1="641.5277777777778" y1="248.24960000000002" x2="641.5277777777778" y2="253.5296"/></g>
<line x1="457.50" y1="227.70" x2="473.80" y2="227.70" stroke="#d8879a" stroke-width="1.1"/>
<circle cx="465.8" cy="227.7" r="2.6" fill="#fff" stroke="#d8879a" stroke-width="1"/>
<text x="476.80" y="230.70" font-family="'Liberation Serif', serif" font-size="9" font-weight="normal" font-style="normal" fill="#000" text-anchor="start" textLength="36" lengthAdjust="spacingAndGlyphs">Ture value</text>
<g stroke="#d1a624" stroke-width="1.3"><line x1="463.40000000000003" y1="238.9" x2="468.2" y2="243.70000000000002"/><line x1="463.40000000000003" y1="243.70000000000002" x2="468.2" y2="238.9"/><line x1="465.8" y1="238.66000000000003" x2="465.8" y2="243.94"/></g>
<text x="476.80" y="244.30" font-family="'Liberation Serif', serif" font-size="9" font-weight="normal" font-style="normal" fill="#000" text-anchor="start" textLength="52" lengthAdjust="spacingAndGlyphs">Predicted value</text>
<rect x="463.10" y="265.00" width="60.00" height="32.70" fill="#000" stroke="none" stroke-width="1"/>
<rect x="460.70" y="262.60" width="60.00" height="32.70" fill="#fff" stroke="#b8b8b8" stroke-width="0.7"/>
<text x="462.70" y="276.00" font-family="'Liberation Serif', serif" font-size="10.3" font-weight="normal" font-style="normal" fill="#000" text-anchor="start" textLength="52.2" lengthAdjust="spacingAndGlyphs">MAE=0.6667</text>
<text x="462.70" y="291.80" font-family="'Liberation Serif', serif" font-size="10.3" font-weight="normal" font-style="normal" fill="#000" text-anchor="start" textLength="56.3" lengthAdjust="spacingAndGlyphs">RMSE=0.7793</text>
<line x1="455.00" y1="221.60" x2="652.50" y2="221.60" stroke="#1a1a1a" stroke-width="1.1"/>
<line x1="455.00" y1="221.60" x2="455.00" y2="323.80" stroke="#1a1a1a" stroke-width="1.1"/>
<line x1="652.50" y1="221.60" x2="652.50" y2="323.80" stroke="#1a1a1a" stroke-width="1.1"/>
<line x1="454.50" y1="323.30" x2="653.00" y2="323.30" stroke="#1a1a1a" stroke-width="1.1"/>
<line x1="451.80" y1="323.30" x2="455.00" y2="323.30" stroke="#1a1a1a" stroke-width="1"/>
<line x1="652.50" y1="323.30" x2="655.70" y2="323.30" stroke="#1a1a1a" stroke-width="1"/>
<text x="450.30" y="326.90" font-family="'Liberation Serif', serif" font-size="10.5" font-weight="normal" font-style="normal" fill="#000" text-anchor="end">0</text>
<text x="658.30" y="326.90" font-family="'Liberation Serif', serif" font-size="10.5" font-weight="normal" font-style="normal" fill="#000" text-anchor="start">0</text>
<line x1="453.00" y1="313.13" x2="455.00" y2="313.13" stroke="#1a1a1a" stroke-width="1"/>
<line x1="652.50" y1="313.13" x2="654.50" y2="313.13" stroke="#1a1a1a" stroke-width="1"/>
<line x1="451.80" y1="302.96" x2="455.00" y2="302.96" stroke="#1a1a1a" stroke-width="1"/>
<line x1="652.50" y1="302.96" x2="655.70" y2="302.96" stroke="#1a1a1a" stroke-width="1"/>
<text x="450.30" y="306.56" font-family="'Liberation Serif', serif" font-size="10.5" font-weight="normal" font-style="normal" fill="#000" text-anchor="end">20</text>
<text x="658.30" y="306.56" font-family="'Liberation Serif', serif" font-size="10.5" font-weight="normal" font-style="normal" fill="#000" text-anchor="start">2</text>
<line x1="453.00" y1="292.79" x2="455.00" y2="292.79" stroke="#1a1a1a" stroke-width="1"/>
<line x1="652.50" y1="292.79" x2="654.50" y2="292.79" stroke="#1a1a1a" stroke-width="1"/>
<line x1="451.80" y1="282.62" x2="455.00" y2="282.62" stroke="#1a1a1a" stroke-width="1"/>
<line x1="652.50" y1="282.62" x2="655.70" y2="282.62" stroke="#1a1a1a" stroke-width="1"/>
<text x="450.30" y="286.22" font-family="'Liberation Serif', serif" font-size="10.5" font-weight="normal" font-style="normal" fill="#000" text-anchor="end">40</text>
<text x="658.30" y="286.22" font-family="'Liberation Serif', serif" font-size="10.5" font-weight="normal" font-style="normal" fill="#000" text-anchor="start">4</text>
<line x1="453.00" y1="272.45" x2="455.00" y2="272.45" stroke="#1a1a1a" stroke-width="1"/>
<line x1="652.50" y1="272.45" x2="654.50" y2="272.45" stroke="#1a1a1a" stroke-width="1"/>
<line x1="451.80" y1="262.28" x2="455.00" y2="262.28" stroke="#1a1a1a" stroke-width="1"/>
<line x1="652.50" y1="262.28" x2="655.70" y2="262.28" stroke="#1a1a1a" stroke-width="1"/>
<text x="450.30" y="265.88" font-family="'Liberation Serif', serif" font-size="10.5" font-weight="normal" font-style="normal" fill="#000" text-anchor="end">60</text>
<text x="658.30" y="265.88" font-family="'Liberation Serif', serif" font-size="10.5" font-weight="normal" font-style="normal" fill="#000" text-anchor="start">6</text>
<line x1="453.00" y1="252.11" x2="455.00" y2="252.11" stroke="#1a1a1a" stroke-width="1"/>
<line x1="652.50" y1="252.11" x2="654.50" y2="252.11" stroke="#1a1a1a" stroke-width="1"/>
<line x1="451.80" y1="241.94" x2="455.00" y2="241.94" stroke="#1a1a1a" stroke-width="1"/>
<line x1="652.50" y1="241.94" x2="655.70" y2="241.94" stroke="#1a1a1a" stroke-width="1"/>
<text x="450.30" y="245.54" font-family="'Liberation Serif', serif" font-size="10.5" font-weight="normal" font-style="normal" fill="#000" text-anchor="end">80</text>
<text x="658.30" y="245.54" font-family="'Liberation Serif', serif" font-size="10.5" font-weight="normal" font-style="normal" fill="#000" text-anchor="start">8</text>
<line x1="453.00" y1="231.77" x2="455.00" y2="231.77" stroke="#1a1a1a" stroke-width="1"/>
<line x1="652.50" y1="231.77" x2="654.50" y2="231.77" stroke="#1a1a1a" stroke-width="1"/>
<line x1="451.80" y1="221.60" x2="455.00" y2="221.60" stroke="#1a1a1a" stroke-width="1"/>
<line x1="652.50" y1="221.60" x2="655.70" y2="221.60" stroke="#1a1a1a" stroke-width="1"/>
<text x="450.30" y="225.20" font-family="'Liberation Serif', serif" font-size="10.5" font-weight="normal" font-style="normal" fill="#000" text-anchor="end">100</text>
<text x="658.30" y="225.20" font-family="'Liberation Serif', serif" font-size="10.5" font-weight="normal" font-style="normal" fill="#000" text-anchor="start">10</text>
<line x1="465.97" y1="323.30" x2="465.97" y2="326.10" stroke="#1a1a1a" stroke-width="1"/>
<text x="465.97" y="338.30" font-family="'Liberation Serif', serif" font-size="11" font-weight="normal" font-style="normal" fill="#000" text-anchor="middle">1</text>
<line x1="487.92" y1="323.30" x2="487.92" y2="326.10" stroke="#1a1a1a" stroke-width="1"/>
<text x="487.92" y="338.30" font-family="'Liberation Serif', serif" font-size="11" font-weight="normal" font-style="normal" fill="#000" text-anchor="middle">2</text>
<line x1="509.86" y1="323.30" x2="509.86" y2="326.10" stroke="#1a1a1a" stroke-width="1"/>
<text x="509.86" y="338.30" font-family="'Liberation Serif', serif" font-size="11" font-weight="normal" font-style="normal" fill="#000" text-anchor="middle">3</text>
<line x1="531.81" y1="323.30" x2="531.81" y2="326.10" stroke="#1a1a1a" stroke-width="1"/>
<text x="531.81" y="338.30" font-family="'Liberation Serif', serif" font-size="11" font-weight="normal" font-style="normal" fill="#000" text-anchor="middle">4</text>
<line x1="553.75" y1="323.30" x2="553.75" y2="326.10" stroke="#1a1a1a" stroke-width="1"/>
<text x="553.75" y="338.30" font-family="'Liberation Serif', serif" font-size="11" font-weight="normal" font-style="normal" fill="#000" text-anchor="middle">5</text>
<line x1="575.69" y1="323.30" x2="575.69" y2="326.10" stroke="#1a1a1a" stroke-width="1"/>
<text x="575.69" y="338.30" font-family="'Liberation Serif', serif" font-size="11" font-weight="normal" font-style="normal" fill="#000" text-anchor="middle">6</text>
<line x1="597.64" y1="323.30" x2="597.64" y2="326.10" stroke="#1a1a1a" stroke-width="1"/>
<text x="597.64" y="338.30" font-family="'Liberation Serif', serif" font-size="11" font-weight="normal" font-style="normal" fill="#000" text-anchor="middle">7</text>
<line x1="619.58" y1="323.30" x2="619.58" y2="326.10" stroke="#1a1a1a" stroke-width="1"/>
<text x="619.58" y="338.30" font-family="'Liberation Serif', serif" font-size="11" font-weight="normal" font-style="normal" fill="#000" text-anchor="middle">8</text>
<line x1="641.53" y1="323.30" x2="641.53" y2="326.10" stroke="#1a1a1a" stroke-width="1"/>
<text x="641.53" y="338.30" font-family="'Liberation Serif', serif" font-size="11" font-weight="normal" font-style="normal" fill="#000" text-anchor="middle">9</text>
<text x="551.50" y="348.90" font-family="'Liberation Serif', serif" font-size="12" font-weight="normal" font-style="normal" fill="#000" text-anchor="middle" textLength="68.5" lengthAdjust="spacingAndGlyphs">Serial number</text>
<text x="435.30" y="272.95" font-family="'Liberation Serif', serif" font-size="14" font-weight="normal" font-style="normal" fill="#000" text-anchor="middle" textLength="89.4" lengthAdjust="spacingAndGlyphs" transform="rotate(-90 435.3 272.95)">Repair rate (%)</text>
<text x="668.00" y="273.45" font-family="'Liberation Serif', serif" font-size="12.2" font-weight="normal" font-style="normal" fill="#000" text-anchor="middle" textLength="93.5" lengthAdjust="spacingAndGlyphs" transform="rotate(90 668 273.45)">Absolute error (AE)</text>
<text x="455.80" y="219.20" font-family="'Liberation Serif', serif" font-size="11.2" font-weight="normal" font-style="normal" fill="#000" text-anchor="start" textLength="70" lengthAdjust="spacingAndGlyphs">Repair for 20 d</text>
<line x1="455.00" y1="496.53" x2="652.50" y2="496.53" stroke="#e0e0e0" stroke-width="0.6" stroke-dasharray="2 1.5"/>
<line x1="455.00" y1="486.36" x2="652.50" y2="486.36" stroke="#e0e0e0" stroke-width="0.7"/>
<line x1="455.00" y1="476.19" x2="652.50" y2="476.19" stroke="#e0e0e0" stroke-width="0.6" stroke-dasharray="2 1.5"/>
<line x1="455.00" y1="466.02" x2="652.50" y2="466.02" stroke="#e0e0e0" stroke-width="0.7"/>
<line x1="455.00" y1="455.85" x2="652.50" y2="455.85" stroke="#e0e0e0" stroke-width="0.6" stroke-dasharray="2 1.5"/>
<line x1="455.00" y1="445.68" x2="652.50" y2="445.68" stroke="#e0e0e0" stroke-width="0.7"/>
<line x1="455.00" y1="435.51" x2="652.50" y2="435.51" stroke="#e0e0e0" stroke-width="0.6" stroke-dasharray="2 1.5"/>
<line x1="455.00" y1="425.34" x2="652.50" y2="425.34" stroke="#e0e0e0" stroke-width="0.7"/>
<line x1="455.00" y1="415.17" x2="652.50" y2="415.17" stroke="#e0e0e0" stroke-width="0.6" stroke-dasharray="2 1.5"/>
<line x1="465.97" y1="405.00" x2="465.97" y2="506.70" stroke="#dcdcdc" stroke-width="0.6" stroke-dasharray="1.6 1.2"/>
<line x1="487.92" y1="405.00" x2="487.92" y2="506.70" stroke="#dcdcdc" stroke-width="0.6" stroke-dasharray="1.6 1.2"/>
<line x1="509.86" y1="405.00" x2="509.86" y2="506.70" stroke="#dcdcdc" stroke-width="0.6" stroke-dasharray="1.6 1.2"/>
<line x1="531.81" y1="405.00" x2="531.81" y2="506.70" stroke="#dcdcdc" stroke-width="0.6" stroke-dasharray="1.6 1.2"/>
<line x1="553.75" y1="405.00" x2="553.75" y2="506.70" stroke="#dcdcdc" stroke-width="0.6" stroke-dasharray="1.6 1.2"/>
<line x1="575.69" y1="405.00" x2="575.69" y2="506.70" stroke="#dcdcdc" stroke-width="0.6" stroke-dasharray="1.6 1.2"/>
<line x1="597.64" y1="405.00" x2="597.64" y2="506.70" stroke="#dcdcdc" stroke-width="0.6" stroke-dasharray="1.6 1.2"/>
<line x1="619.58" y1="405.00" x2="619.58" y2="506.70" stroke="#dcdcdc" stroke-width="0.6" stroke-dasharray="1.6 1.2"/>
<line x1="641.53" y1="405.00" x2="641.53" y2="506.70" stroke="#dcdcdc" stroke-width="0.6" stroke-dasharray="1.6 1.2"/>
<rect x="457.47" y="496.63" width="17.00" height="10.07" fill="#a9d3ea" stroke="#222" stroke-width="0.9"/>
<rect x="479.42" y="504.46" width="17.00" height="2.24" fill="#a9d3ea" stroke="#222" stroke-width="0.9"/>
<rect x="501.36" y="504.46" width="17.00" height="2.24" fill="#a9d3ea" stroke="#222" stroke-width="0.9"/>
<rect x="523.31" y="502.33" width="17.00" height="4.37" fill="#a9d3ea" stroke="#222" stroke-width="0.9"/>
<rect x="545.25" y="500.09" width="17.00" height="6.61" fill="#a9d3ea" stroke="#222" stroke-width="0.9"/>
<rect x="567.19" y="500.09" width="17.00" height="6.61" fill="#a9d3ea" stroke="#222" stroke-width="0.9"/>
<rect x="589.14" y="503.65" width="17.00" height="3.05" fill="#a9d3ea" stroke="#222" stroke-width="0.9"/>
<rect x="611.08" y="501.41" width="17.00" height="5.29" fill="#a9d3ea" stroke="#222" stroke-width="0.9"/>
<rect x="633.03" y="504.46" width="17.00" height="2.24" fill="#a9d3ea" stroke="#222" stroke-width="0.9"/>
<polyline points="465.97,426.97 487.92,428.19 509.86,425.54 531.81,427.37 553.75,427.37 575.69,427.37 597.64,425.54 619.58,426.46 641.53,427.37" fill="none" stroke="#9a2ff5" stroke-width="1.1"/>
<circle cx="465.97" cy="426.97" r="2.5" fill="#e6d3fb" fill-opacity="0.5" stroke="#9a2ff5" stroke-width="1"/>
<circle cx="487.92" cy="428.19" r="2.5" fill="#e6d3fb" fill-opacity="0.5" stroke="#9a2ff5" stroke-width="1"/>
<circle cx="509.86" cy="425.54" r="2.5" fill="#e6d3fb" fill-opacity="0.5" stroke="#9a2ff5" stroke-width="1"/>
<circle cx="531.81" cy="427.37" r="2.5" fill="#e6d3fb" fill-opacity="0.5" stroke="#9a2ff5" stroke-width="1"/>
<circle cx="553.75" cy="427.37" r="2.5" fill="#e6d3fb" fill-opacity="0.5" stroke="#9a2ff5" stroke-width="1"/>
<circle cx="575.69" cy="427.37" r="2.5" fill="#e6d3fb" fill-opacity="0.5" stroke="#9a2ff5" stroke-width="1"/>
<circle cx="597.64" cy="425.54" r="2.5" fill="#e6d3fb" fill-opacity="0.5" stroke="#9a2ff5" stroke-width="1"/>
<circle cx="619.58" cy="426.46" r="2.5" fill="#e6d3fb" fill-opacity="0.5" stroke="#9a2ff5" stroke-width="1"/>
<circle cx="641.53" cy="427.37" r="2.5" fill="#e6d3fb" fill-opacity="0.5" stroke="#9a2ff5" stroke-width="1"/>
<g stroke="#7b3232" stroke-width="1.0"><line x1="465.97" y1="424.78" x2="465.97" y2="430.38"/><line x1="468.40" y1="426.18" x2="463.55" y2="428.98"/><line x1="468.40" y1="428.98" x2="463.55" y2="426.18"/><line x1="463.45" y1="426.04" x2="468.49" y2="429.12"/><line x1="463.45" y1="429.12" x2="468.49" y2="426.04"/></g>
<g stroke="#7b3232" stroke-width="1.0"><line x1="487.92" y1="426.00" x2="487.92" y2="431.60"/><line x1="490.34" y1="427.40" x2="485.49" y2="430.20"/><line x1="490.34" y1="430.20" x2="485.49" y2="427.40"/><line x1="485.40" y1="427.26" x2="490.44" y2="430.34"/><line x1="485.40" y1="430.34" x2="490.44" y2="427.26"/></g>
<g stroke="#7b3232" stroke-width="1.0"><line x1="509.86" y1="423.15" x2="509.86" y2="428.75"/><line x1="512.29" y1="424.55" x2="507.44" y2="427.35"/><line x1="512.29" y1="427.35" x2="507.44" y2="424.55"/><line x1="507.34" y1="424.41" x2="512.38" y2="427.49"/><line x1="507.34" y1="427.49" x2="512.38" y2="424.41"/></g>
<g stroke="#7b3232" stroke-width="1.0"><line x1="531.81" y1="424.98" x2="531.81" y2="430.58"/><line x1="534.23" y1="426.38" x2="529.38" y2="429.18"/><line x1="534.23" y1="429.18" x2="529.38" y2="426.38"/><line x1="529.29" y1="426.24" x2="534.33" y2="429.32"/><line x1="529.29" y1="429.32" x2="534.33" y2="426.24"/></g>
<g stroke="#7b3232" stroke-width="1.0"><line x1="553.75" y1="424.78" x2="553.75" y2="430.38"/><line x1="556.17" y1="426.18" x2="551.33" y2="428.98"/><line x1="556.17" y1="428.98" x2="551.33" y2="426.18"/><line x1="551.23" y1="426.04" x2="556.27" y2="429.12"/><line x1="551.23" y1="429.12" x2="556.27" y2="426.04"/></g>
<g stroke="#7b3232" stroke-width="1.0"><line x1="575.69" y1="425.08" x2="575.69" y2="430.68"/><line x1="578.12" y1="426.48" x2="573.27" y2="429.28"/><line x1="578.12" y1="429.28" x2="573.27" y2="426.48"/><line x1="573.17" y1="426.34" x2="578.21" y2="429.42"/><line x1="573.17" y1="429.42" x2="578.21" y2="426.34"/></g>
<g stroke="#7b3232" stroke-width="1.0"><line x1="597.64" y1="422.95" x2="597.64" y2="428.55"/><line x1="600.06" y1="424.35" x2="595.21" y2="427.15"/><line x1="600.06" y1="427.15" x2="595.21" y2="424.35"/><line x1="595.12" y1="424.21" x2="600.16" y2="427.29"/><line x1="595.12" y1="427.29" x2="600.16" y2="424.21"/></g>
<g stroke="#7b3232" stroke-width="1.0"><line x1="619.58" y1="424.17" x2="619.58" y2="429.77"/><line x1="622.01" y1="425.57" x2="617.16" y2="428.37"/><line x1="622.01" y1="428.37" x2="617.16" y2="425.57"/><line x1="617.06" y1="425.43" x2="622.10" y2="428.51"/><line x1="617.06" y1="428.51" x2="622.10" y2="425.43"/></g>
<g stroke="#7b3232" stroke-width="1.0"><line x1="641.53" y1="424.78" x2="641.53" y2="430.38"/><line x1="643.95" y1="426.18" x2="639.10" y2="428.98"/><line x1="643.95" y1="428.98" x2="639.10" y2="426.18"/><line x1="639.01" y1="426.04" x2="644.05" y2="429.12"/><line x1="639.01" y1="429.12" x2="644.05" y2="426.04"/></g>
<line x1="457.50" y1="438.30" x2="473.80" y2="438.30" stroke="#9a2ff5" stroke-width="1.1"/>
<circle cx="465.8" cy="438.3" r="2.6" fill="#fff" stroke="#9a2ff5" stroke-width="1"/>
<text x="476.80" y="441.30" font-family="'Liberation Serif', serif" font-size="9" font-weight="normal" font-style="normal" fill="#000" text-anchor="start" textLength="36" lengthAdjust="spacingAndGlyphs">Ture value</text>
<g stroke="#7b3232" stroke-width="1.0"><line x1="465.80" y1="449.00" x2="465.80" y2="454.60"/><line x1="468.22" y1="450.40" x2="463.38" y2="453.20"/><line x1="468.22" y1="453.20" x2="463.38" y2="450.40"/><line x1="463.28" y1="450.26" x2="468.32" y2="453.34"/><line x1="463.28" y1="453.34" x2="468.32" y2="450.26"/></g>
<text x="476.80" y="454.80" font-family="'Liberation Serif', serif" font-size="9" font-weight="normal" font-style="normal" fill="#000" text-anchor="start" textLength="52" lengthAdjust="spacingAndGlyphs">Predicted value</text>
<rect x="461.70" y="461.70" width="60.50" height="32.70" fill="#000" stroke="none" stroke-width="1"/>
<rect x="459.30" y="459.30" width="60.50" height="32.70" fill="#fff" stroke="#b8b8b8" stroke-width="0.7"/>
<text x="461.30" y="472.60" font-family="'Liberation Serif', serif" font-size="10.3" font-weight="normal" font-style="normal" fill="#000" text-anchor="start" textLength="50.8" lengthAdjust="spacingAndGlyphs">MAE=0.4713</text>
<text x="461.30" y="488.40" font-family="'Liberation Serif', serif" font-size="10.3" font-weight="normal" font-style="normal" fill="#000" text-anchor="start" textLength="57.8" lengthAdjust="spacingAndGlyphs">RMSE=0.5306</text>
<line x1="455.00" y1="405.00" x2="652.50" y2="405.00" stroke="#1a1a1a" stroke-width="1.1"/>
<line x1="455.00" y1="405.00" x2="455.00" y2="507.20" stroke="#1a1a1a" stroke-width="1.1"/>
<line x1="652.50" y1="405.00" x2="652.50" y2="507.20" stroke="#1a1a1a" stroke-width="1.1"/>
<line x1="454.50" y1="506.70" x2="653.00" y2="506.70" stroke="#1a1a1a" stroke-width="1.1"/>
<line x1="451.80" y1="506.70" x2="455.00" y2="506.70" stroke="#1a1a1a" stroke-width="1"/>
<line x1="652.50" y1="506.70" x2="655.70" y2="506.70" stroke="#1a1a1a" stroke-width="1"/>
<text x="450.30" y="510.30" font-family="'Liberation Serif', serif" font-size="10.5" font-weight="normal" font-style="normal" fill="#000" text-anchor="end">0</text>
<text x="658.30" y="510.30" font-family="'Liberation Serif', serif" font-size="10.5" font-weight="normal" font-style="normal" fill="#000" text-anchor="start">0</text>
<line x1="453.00" y1="496.53" x2="455.00" y2="496.53" stroke="#1a1a1a" stroke-width="1"/>
<line x1="652.50" y1="496.53" x2="654.50" y2="496.53" stroke="#1a1a1a" stroke-width="1"/>
<line x1="451.80" y1="486.36" x2="455.00" y2="486.36" stroke="#1a1a1a" stroke-width="1"/>
<line x1="652.50" y1="486.36" x2="655.70" y2="486.36" stroke="#1a1a1a" stroke-width="1"/>
<text x="450.30" y="489.96" font-family="'Liberation Serif', serif" font-size="10.5" font-weight="normal" font-style="normal" fill="#000" text-anchor="end">20</text>
<text x="658.30" y="489.96" font-family="'Liberation Serif', serif" font-size="10.5" font-weight="normal" font-style="normal" fill="#000" text-anchor="start">2</text>
<line x1="453.00" y1="476.19" x2="455.00" y2="476.19" stroke="#1a1a1a" stroke-width="1"/>
<line x1="652.50" y1="476.19" x2="654.50" y2="476.19" stroke="#1a1a1a" stroke-width="1"/>
<line x1="451.80" y1="466.02" x2="455.00" y2="466.02" stroke="#1a1a1a" stroke-width="1"/>
<line x1="652.50" y1="466.02" x2="655.70" y2="466.02" stroke="#1a1a1a" stroke-width="1"/>
<text x="450.30" y="469.62" font-family="'Liberation Serif', serif" font-size="10.5" font-weight="normal" font-style="normal" fill="#000" text-anchor="end">40</text>
<text x="658.30" y="469.62" font-family="'Liberation Serif', serif" font-size="10.5" font-weight="normal" font-style="normal" fill="#000" text-anchor="start">4</text>
<line x1="453.00" y1="455.85" x2="455.00" y2="455.85" stroke="#1a1a1a" stroke-width="1"/>
<line x1="652.50" y1="455.85" x2="654.50" y2="455.85" stroke="#1a1a1a" stroke-width="1"/>
<line x1="451.80" y1="445.68" x2="455.00" y2="445.68" stroke="#1a1a1a" stroke-width="1"/>
<line x1="652.50" y1="445.68" x2="655.70" y2="445.68" stroke="#1a1a1a" stroke-width="1"/>
<text x="450.30" y="449.28" font-family="'Liberation Serif', serif" font-size="10.5" font-weight="normal" font-style="normal" fill="#000" text-anchor="end">60</text>
<text x="658.30" y="449.28" font-family="'Liberation Serif', serif" font-size="10.5" font-weight="normal" font-style="normal" fill="#000" text-anchor="start">6</text>
<line x1="453.00" y1="435.51" x2="455.00" y2="435.51" stroke="#1a1a1a" stroke-width="1"/>
<line x1="652.50" y1="435.51" x2="654.50" y2="435.51" stroke="#1a1a1a" stroke-width="1"/>
<line x1="451.80" y1="425.34" x2="455.00" y2="425.34" stroke="#1a1a1a" stroke-width="1"/>
<line x1="652.50" y1="425.34" x2="655.70" y2="425.34" stroke="#1a1a1a" stroke-width="1"/>
<text x="450.30" y="428.94" font-family="'Liberation Serif', serif" font-size="10.5" font-weight="normal" font-style="normal" fill="#000" text-anchor="end">80</text>
<text x="658.30" y="428.94" font-family="'Liberation Serif', serif" font-size="10.5" font-weight="normal" font-style="normal" fill="#000" text-anchor="start">8</text>
<line x1="453.00" y1="415.17" x2="455.00" y2="415.17" stroke="#1a1a1a" stroke-width="1"/>
<line x1="652.50" y1="415.17" x2="654.50" y2="415.17" stroke="#1a1a1a" stroke-width="1"/>
<line x1="451.80" y1="405.00" x2="455.00" y2="405.00" stroke="#1a1a1a" stroke-width="1"/>
<line x1="652.50" y1="405.00" x2="655.70" y2="405.00" stroke="#1a1a1a" stroke-width="1"/>
<text x="450.30" y="408.60" font-family="'Liberation Serif', serif" font-size="10.5" font-weight="normal" font-style="normal" fill="#000" text-anchor="end">100</text>
<text x="658.30" y="408.60" font-family="'Liberation Serif', serif" font-size="10.5" font-weight="normal" font-style="normal" fill="#000" text-anchor="start">10</text>
<line x1="465.97" y1="506.70" x2="465.97" y2="509.50" stroke="#1a1a1a" stroke-width="1"/>
<text x="465.97" y="521.70" font-family="'Liberation Serif', serif" font-size="11" font-weight="normal" font-style="normal" fill="#000" text-anchor="middle">1</text>
<line x1="487.92" y1="506.70" x2="487.92" y2="509.50" stroke="#1a1a1a" stroke-width="1"/>
<text x="487.92" y="521.70" font-family="'Liberation Serif', serif" font-size="11" font-weight="normal" font-style="normal" fill="#000" text-anchor="middle">2</text>
<line x1="509.86" y1="506.70" x2="509.86" y2="509.50" stroke="#1a1a1a" stroke-width="1"/>
<text x="509.86" y="521.70" font-family="'Liberation Serif', serif" font-size="11" font-weight="normal" font-style="normal" fill="#000" text-anchor="middle">3</text>
<line x1="531.81" y1="506.70" x2="531.81" y2="509.50" stroke="#1a1a1a" stroke-width="1"/>
<text x="531.81" y="521.70" font-family="'Liberation Serif', serif" font-size="11" font-weight="normal" font-style="normal" fill="#000" text-anchor="middle">4</text>
<line x1="553.75" y1="506.70" x2="553.75" y2="509.50" stroke="#1a1a1a" stroke-width="1"/>
<text x="553.75" y="521.70" font-family="'Liberation Serif', serif" font-size="11" font-weight="normal" font-style="normal" fill="#000" text-anchor="middle">5</text>
<line x1="575.69" y1="506.70" x2="575.69" y2="509.50" stroke="#1a1a1a" stroke-width="1"/>
<text x="575.69" y="521.70" font-family="'Liberation Serif', serif" font-size="11" font-weight="normal" font-style="normal" fill="#000" text-anchor="middle">6</text>
<line x1="597.64" y1="506.70" x2="597.64" y2="509.50" stroke="#1a1a1a" stroke-width="1"/>
<text x="597.64" y="521.70" font-family="'Liberation Serif', serif" font-size="11" font-weight="normal" font-style="normal" fill="#000" text-anchor="middle">7</text>
<line x1="619.58" y1="506.70" x2="619.58" y2="509.50" stroke="#1a1a1a" stroke-width="1"/>
<text x="619.58" y="521.70" font-family="'Liberation Serif', serif" font-size="11" font-weight="normal" font-style="normal" fill="#000" text-anchor="middle">8</text>
<line x1="641.53" y1="506.70" x2="641.53" y2="509.50" stroke="#1a1a1a" stroke-width="1"/>
<text x="641.53" y="521.70" font-family="'Liberation Serif', serif" font-size="11" font-weight="normal" font-style="normal" fill="#000" text-anchor="middle">9</text>
<text x="551.50" y="532.30" font-family="'Liberation Serif', serif" font-size="12" font-weight="normal" font-style="normal" fill="#000" text-anchor="middle" textLength="68.5" lengthAdjust="spacingAndGlyphs">Serial number</text>
<text x="435.30" y="456.35" font-family="'Liberation Serif', serif" font-size="14" font-weight="normal" font-style="normal" fill="#000" text-anchor="middle" textLength="89.4" lengthAdjust="spacingAndGlyphs" transform="rotate(-90 435.3 456.35)">Repair rate (%)</text>
<text x="668.00" y="456.85" font-family="'Liberation Serif', serif" font-size="12.2" font-weight="normal" font-style="normal" fill="#000" text-anchor="middle" textLength="93.5" lengthAdjust="spacingAndGlyphs" transform="rotate(90 668 456.85)">Absolute error (AE)</text>
<text x="455.80" y="402.60" font-family="'Liberation Serif', serif" font-size="11.2" font-weight="normal" font-style="normal" fill="#000" text-anchor="start" textLength="70" lengthAdjust="spacingAndGlyphs">Repair for 30 d</text>
<line x1="1.00" y1="554.20" x2="683.50" y2="554.20" stroke="#1b3478" stroke-width="1.3" stroke-dasharray="3.2 1.2"/>
<text x="4.50" y="573.60" font-family="'Liberation Sans', sans-serif" font-size="16" font-weight="bold" font-style="normal" fill="#000" text-anchor="start" textLength="20" lengthAdjust="spacingAndGlyphs">(b)</text>
<defs>
<linearGradient id="g1" x1="0" y1="0" x2="0" y2="1"><stop offset="0" stop-color="#a6cfe6"/><stop offset="1" stop-color="#acd3e9"/></linearGradient>
<linearGradient id="g2" x1="0" y1="0" x2="0" y2="1"><stop offset="0" stop-color="#c9ebd7"/><stop offset="1" stop-color="#afdfc2"/></linearGradient>
<linearGradient id="g3" x1="0" y1="0" x2="0" y2="1"><stop offset="0" stop-color="#5b919e"/><stop offset="1" stop-color="#c3dbe0"/></linearGradient>
<radialGradient id="sph" cx="0.4" cy="0.36" r="0.62" fx="0.36" fy="0.3"><stop offset="0" stop-color="#f2fbfd"/><stop offset="0.22" stop-color="#7cc0cf"/><stop offset="0.45" stop-color="#2f8ba0"/><stop offset="1" stop-color="#175f6f"/></radialGradient>
</defs>
<polygon points="317.1,664.2 345.7,733.4 317.1,801.4" fill="#d4deea"/>
<rect x="74.36" y="589.76" width="16.00" height="89.24" fill="url(#g1)" stroke="none" stroke-width="1"/>
<rect x="101.67" y="590.58" width="16.00" height="88.42" fill="url(#g1)" stroke="none" stroke-width="1"/>
<rect x="128.98" y="588.94" width="16.00" height="90.06" fill="url(#g1)" stroke="none" stroke-width="1"/>
<rect x="156.29" y="589.39" width="16.00" height="89.61" fill="url(#g1)" stroke="none" stroke-width="1"/>
<rect x="183.60" y="587.75" width="16.00" height="91.25" fill="url(#g1)" stroke="none" stroke-width="1"/>
<rect x="210.91" y="590.12" width="16.00" height="88.88" fill="url(#g1)" stroke="none" stroke-width="1"/>
<rect x="238.22" y="590.49" width="16.00" height="88.51" fill="url(#g1)" stroke="none" stroke-width="1"/>
<rect x="265.53" y="588.94" width="16.00" height="90.06" fill="url(#g1)" stroke="none" stroke-width="1"/>
<rect x="292.84" y="591.67" width="16.00" height="87.33" fill="url(#g1)" stroke="none" stroke-width="1"/>
<rect x="71.40" y="575.10" width="16.70" height="8.30" fill="url(#g1)" stroke="none" stroke-width="1"/>
<text x="91.00" y="582.50" font-family="'Liberation Serif', serif" font-size="9.6" font-weight="normal" font-style="normal" fill="#000" text-anchor="start" textLength="129.3" lengthAdjust="spacingAndGlyphs">Var 1: Crack surface healing rate</text>
<line x1="65.70" y1="679.00" x2="68.70" y2="679.00" stroke="#1a1a1a" stroke-width="0.9"/>
<text x="65.20" y="682.20" font-family="'Liberation Serif', serif" font-size="9.8" font-weight="normal" font-style="normal" fill="#000" text-anchor="end">0</text>
<line x1="66.90" y1="669.88" x2="68.70" y2="669.88" stroke="#1a1a1a" stroke-width="0.9"/>
<line x1="65.70" y1="660.75" x2="68.70" y2="660.75" stroke="#1a1a1a" stroke-width="0.9"/>
<text x="65.20" y="663.95" font-family="'Liberation Serif', serif" font-size="9.8" font-weight="normal" font-style="normal" fill="#000" text-anchor="end">20</text>
<line x1="66.90" y1="651.62" x2="68.70" y2="651.62" stroke="#1a1a1a" stroke-width="0.9"/>
<line x1="65.70" y1="642.50" x2="68.70" y2="642.50" stroke="#1a1a1a" stroke-width="0.9"/>
<text x="65.20" y="645.70" font-family="'Liberation Serif', serif" font-size="9.8" font-weight="normal" font-style="normal" fill="#000" text-anchor="end">40</text>
<line x1="66.90" y1="633.38" x2="68.70" y2="633.38" stroke="#1a1a1a" stroke-width="0.9"/>
<line x1="65.70" y1="624.25" x2="68.70" y2="624.25" stroke="#1a1a1a" stroke-width="0.9"/>
<text x="65.20" y="627.45" font-family="'Liberation Serif', serif" font-size="9.8" font-weight="normal" font-style="normal" fill="#000" text-anchor="end">60</text>
<line x1="66.90" y1="615.12" x2="68.70" y2="615.12" stroke="#1a1a1a" stroke-width="0.9"/>
<line x1="65.70" y1="606.00" x2="68.70" y2="606.00" stroke="#1a1a1a" stroke-width="0.9"/>
<text x="65.20" y="609.20" font-family="'Liberation Serif', serif" font-size="9.8" font-weight="normal" font-style="normal" fill="#000" text-anchor="end">80</text>
<line x1="66.90" y1="596.88" x2="68.70" y2="596.88" stroke="#1a1a1a" stroke-width="0.9"/>
<line x1="65.70" y1="587.75" x2="68.70" y2="587.75" stroke="#1a1a1a" stroke-width="0.9"/>
<text x="65.20" y="590.95" font-family="'Liberation Serif', serif" font-size="9.8" font-weight="normal" font-style="normal" fill="#000" text-anchor="end">100</text>
<line x1="66.90" y1="578.62" x2="68.70" y2="578.62" stroke="#1a1a1a" stroke-width="0.9"/>
<line x1="65.70" y1="569.50" x2="68.70" y2="569.50" stroke="#1a1a1a" stroke-width="0.9"/>
<line x1="82.36" y1="679.00" x2="82.36" y2="676.80" stroke="#1a1a1a" stroke-width="0.9"/>
<line x1="109.67" y1="679.00" x2="109.67" y2="676.80" stroke="#1a1a1a" stroke-width="0.9"/>
<line x1="136.98" y1="679.00" x2="136.98" y2="676.80" stroke="#1a1a1a" stroke-width="0.9"/>
<line x1="164.29" y1="679.00" x2="164.29" y2="676.80" stroke="#1a1a1a" stroke-width="0.9"/>
<line x1="191.60" y1="679.00" x2="191.60" y2="676.80" stroke="#1a1a1a" stroke-width="0.9"/>
<line x1="218.91" y1="679.00" x2="218.91" y2="676.80" stroke="#1a1a1a" stroke-width="0.9"/>
<line x1="246.22" y1="679.00" x2="246.22" y2="676.80" stroke="#1a1a1a" stroke-width="0.9"/>
<line x1="273.53" y1="679.00" x2="273.53" y2="676.80" stroke="#1a1a1a" stroke-width="0.9"/>
<line x1="300.84" y1="679.00" x2="300.84" y2="676.80" stroke="#1a1a1a" stroke-width="0.9"/>
<text x="48.00" y="626.50" font-family="'Liberation Serif', serif" font-size="12" font-weight="normal" font-style="normal" fill="#000" text-anchor="middle" textLength="44.6" lengthAdjust="spacingAndGlyphs" transform="rotate(-90 48 626.5)"><tspan font-style="italic">Var 1</tspan> (%)</text>
<rect x="74.36" y="708.84" width="16.00" height="79.66" fill="url(#g2)" stroke="none" stroke-width="1"/>
<rect x="101.67" y="704.91" width="16.00" height="83.59" fill="url(#g2)" stroke="none" stroke-width="1"/>
<rect x="128.98" y="703.18" width="16.00" height="85.32" fill="url(#g2)" stroke="none" stroke-width="1"/>
<rect x="156.29" y="699.99" width="16.00" height="88.51" fill="url(#g2)" stroke="none" stroke-width="1"/>
<rect x="183.60" y="698.71" width="16.00" height="89.79" fill="url(#g2)" stroke="none" stroke-width="1"/>
<rect x="210.91" y="709.02" width="16.00" height="79.48" fill="url(#g2)" stroke="none" stroke-width="1"/>
<rect x="238.22" y="709.02" width="16.00" height="79.48" fill="url(#g2)" stroke="none" stroke-width="1"/>
<rect x="265.53" y="700.90" width="16.00" height="87.60" fill="url(#g2)" stroke="none" stroke-width="1"/>
<rect x="292.84" y="710.02" width="16.00" height="78.48" fill="url(#g2)" stroke="none" stroke-width="1"/>
<rect x="71.40" y="684.70" width="16.70" height="8.30" fill="url(#g2)" stroke="none" stroke-width="1"/>
<text x="91.00" y="692.10" font-family="'Liberation Serif', serif" font-size="9.6" font-weight="normal" font-style="normal" fill="#000" text-anchor="start" textLength="141.5" lengthAdjust="spacingAndGlyphs">Var 2: Water permeability recovery</text>
<line x1="65.70" y1="788.50" x2="68.70" y2="788.50" stroke="#1a1a1a" stroke-width="0.9"/>
<text x="65.20" y="791.70" font-family="'Liberation Serif', serif" font-size="9.8" font-weight="normal" font-style="normal" fill="#000" text-anchor="end">0</text>
<line x1="66.90" y1="779.38" x2="68.70" y2="779.38" stroke="#1a1a1a" stroke-width="0.9"/>
<line x1="65.70" y1="770.25" x2="68.70" y2="770.25" stroke="#1a1a1a" stroke-width="0.9"/>
<text x="65.20" y="773.45" font-family="'Liberation Serif', serif" font-size="9.8" font-weight="normal" font-style="normal" fill="#000" text-anchor="end">20</text>
<line x1="66.90" y1="761.12" x2="68.70" y2="761.12" stroke="#1a1a1a" stroke-width="0.9"/>
<line x1="65.70" y1="752.00" x2="68.70" y2="752.00" stroke="#1a1a1a" stroke-width="0.9"/>
<text x="65.20" y="755.20" font-family="'Liberation Serif', serif" font-size="9.8" font-weight="normal" font-style="normal" fill="#000" text-anchor="end">40</text>
<line x1="66.90" y1="742.88" x2="68.70" y2="742.88" stroke="#1a1a1a" stroke-width="0.9"/>
<line x1="65.70" y1="733.75" x2="68.70" y2="733.75" stroke="#1a1a1a" stroke-width="0.9"/>
<text x="65.20" y="736.95" font-family="'Liberation Serif', serif" font-size="9.8" font-weight="normal" font-style="normal" fill="#000" text-anchor="end">60</text>
<line x1="66.90" y1="724.62" x2="68.70" y2="724.62" stroke="#1a1a1a" stroke-width="0.9"/>
<line x1="65.70" y1="715.50" x2="68.70" y2="715.50" stroke="#1a1a1a" stroke-width="0.9"/>
<text x="65.20" y="718.70" font-family="'Liberation Serif', serif" font-size="9.8" font-weight="normal" font-style="normal" fill="#000" text-anchor="end">80</text>
<line x1="66.90" y1="706.38" x2="68.70" y2="706.38" stroke="#1a1a1a" stroke-width="0.9"/>
<line x1="65.70" y1="697.25" x2="68.70" y2="697.25" stroke="#1a1a1a" stroke-width="0.9"/>
<text x="65.20" y="700.45" font-family="'Liberation Serif', serif" font-size="9.8" font-weight="normal" font-style="normal" fill="#000" text-anchor="end">100</text>
<line x1="66.90" y1="688.12" x2="68.70" y2="688.12" stroke="#1a1a1a" stroke-width="0.9"/>
<line x1="65.70" y1="679.00" x2="68.70" y2="679.00" stroke="#1a1a1a" stroke-width="0.9"/>
<line x1="82.36" y1="788.50" x2="82.36" y2="786.30" stroke="#1a1a1a" stroke-width="0.9"/>
<line x1="109.67" y1="788.50" x2="109.67" y2="786.30" stroke="#1a1a1a" stroke-width="0.9"/>
<line x1="136.98" y1="788.50" x2="136.98" y2="786.30" stroke="#1a1a1a" stroke-width="0.9"/>
<line x1="164.29" y1="788.50" x2="164.29" y2="786.30" stroke="#1a1a1a" stroke-width="0.9"/>
<line x1="191.60" y1="788.50" x2="191.60" y2="786.30" stroke="#1a1a1a" stroke-width="0.9"/>
<line x1="218.91" y1="788.50" x2="218.91" y2="786.30" stroke="#1a1a1a" stroke-width="0.9"/>
<line x1="246.22" y1="788.50" x2="246.22" y2="786.30" stroke="#1a1a1a" stroke-width="0.9"/>
<line x1="273.53" y1="788.50" x2="273.53" y2="786.30" stroke="#1a1a1a" stroke-width="0.9"/>
<line x1="300.84" y1="788.50" x2="300.84" y2="786.30" stroke="#1a1a1a" stroke-width="0.9"/>
<text x="48.00" y="735.20" font-family="'Liberation Serif', serif" font-size="12" font-weight="normal" font-style="normal" fill="#000" text-anchor="middle" textLength="47.2" lengthAdjust="spacingAndGlyphs" transform="rotate(-90 48 735.2)"><tspan font-style="italic">Var 2</tspan> (%)</text>
<rect x="74.36" y="839.14" width="16.00" height="58.86" fill="url(#g3)" stroke="none" stroke-width="1"/>
<rect x="101.67" y="842.25" width="16.00" height="55.75" fill="url(#g3)" stroke="none" stroke-width="1"/>
<rect x="128.98" y="832.12" width="16.00" height="65.88" fill="url(#g3)" stroke="none" stroke-width="1"/>
<rect x="156.29" y="842.79" width="16.00" height="55.21" fill="url(#g3)" stroke="none" stroke-width="1"/>
<rect x="183.60" y="833.12" width="16.00" height="64.88" fill="url(#g3)" stroke="none" stroke-width="1"/>
<rect x="210.91" y="836.13" width="16.00" height="61.87" fill="url(#g3)" stroke="none" stroke-width="1"/>
<rect x="238.22" y="840.15" width="16.00" height="57.85" fill="url(#g3)" stroke="none" stroke-width="1"/>
<rect x="265.53" y="833.12" width="16.00" height="64.88" fill="url(#g3)" stroke="none" stroke-width="1"/>
<rect x="292.84" y="843.89" width="16.00" height="54.11" fill="url(#g3)" stroke="none" stroke-width="1"/>
<rect x="71.40" y="794.10" width="16.70" height="8.30" fill="url(#g3)" stroke="none" stroke-width="1"/>
<text x="91.00" y="801.50" font-family="'Liberation Serif', serif" font-size="9.6" font-weight="normal" font-style="normal" fill="#000" text-anchor="start" textLength="185" lengthAdjust="spacingAndGlyphs">Output: Ultrasonic pulse velocity recovery rate</text>
<line x1="65.70" y1="898.00" x2="68.70" y2="898.00" stroke="#1a1a1a" stroke-width="0.9"/>
<text x="65.20" y="901.20" font-family="'Liberation Serif', serif" font-size="9.8" font-weight="normal" font-style="normal" fill="#000" text-anchor="end">0</text>
<line x1="66.90" y1="888.88" x2="68.70" y2="888.88" stroke="#1a1a1a" stroke-width="0.9"/>
<line x1="65.70" y1="879.75" x2="68.70" y2="879.75" stroke="#1a1a1a" stroke-width="0.9"/>
<text x="65.20" y="882.95" font-family="'Liberation Serif', serif" font-size="9.8" font-weight="normal" font-style="normal" fill="#000" text-anchor="end">20</text>
<line x1="66.90" y1="870.62" x2="68.70" y2="870.62" stroke="#1a1a1a" stroke-width="0.9"/>
<line x1="65.70" y1="861.50" x2="68.70" y2="861.50" stroke="#1a1a1a" stroke-width="0.9"/>
<text x="65.20" y="864.70" font-family="'Liberation Serif', serif" font-size="9.8" font-weight="normal" font-style="normal" fill="#000" text-anchor="end">40</text>
<line x1="66.90" y1="852.38" x2="68.70" y2="852.38" stroke="#1a1a1a" stroke-width="0.9"/>
<line x1="65.70" y1="843.25" x2="68.70" y2="843.25" stroke="#1a1a1a" stroke-width="0.9"/>
<text x="65.20" y="846.45" font-family="'Liberation Serif', serif" font-size="9.8" font-weight="normal" font-style="normal" fill="#000" text-anchor="end">60</text>
<line x1="66.90" y1="834.12" x2="68.70" y2="834.12" stroke="#1a1a1a" stroke-width="0.9"/>
<line x1="65.70" y1="825.00" x2="68.70" y2="825.00" stroke="#1a1a1a" stroke-width="0.9"/>
<text x="65.20" y="828.20" font-family="'Liberation Serif', serif" font-size="9.8" font-weight="normal" font-style="normal" fill="#000" text-anchor="end">80</text>
<line x1="66.90" y1="815.88" x2="68.70" y2="815.88" stroke="#1a1a1a" stroke-width="0.9"/>
<line x1="65.70" y1="806.75" x2="68.70" y2="806.75" stroke="#1a1a1a" stroke-width="0.9"/>
<text x="65.20" y="809.95" font-family="'Liberation Serif', serif" font-size="9.8" font-weight="normal" font-style="normal" fill="#000" text-anchor="end">100</text>
<line x1="66.90" y1="797.62" x2="68.70" y2="797.62" stroke="#1a1a1a" stroke-width="0.9"/>
<line x1="65.70" y1="788.50" x2="68.70" y2="788.50" stroke="#1a1a1a" stroke-width="0.9"/>
<line x1="82.36" y1="898.00" x2="82.36" y2="895.80" stroke="#1a1a1a" stroke-width="0.9"/>
<line x1="82.36" y1="898.00" x2="82.36" y2="900.20" stroke="#1a1a1a" stroke-width="0.9"/>
<line x1="109.67" y1="898.00" x2="109.67" y2="895.80" stroke="#1a1a1a" stroke-width="0.9"/>
<line x1="109.67" y1="898.00" x2="109.67" y2="900.20" stroke="#1a1a1a" stroke-width="0.9"/>
<line x1="136.98" y1="898.00" x2="136.98" y2="895.80" stroke="#1a1a1a" stroke-width="0.9"/>
<line x1="136.98" y1="898.00" x2="136.98" y2="900.20" stroke="#1a1a1a" stroke-width="0.9"/>
<line x1="164.29" y1="898.00" x2="164.29" y2="895.80" stroke="#1a1a1a" stroke-width="0.9"/>
<line x1="164.29" y1="898.00" x2="164.29" y2="900.20" stroke="#1a1a1a" stroke-width="0.9"/>
<line x1="191.60" y1="898.00" x2="191.60" y2="895.80" stroke="#1a1a1a" stroke-width="0.9"/>
<line x1="191.60" y1="898.00" x2="191.60" y2="900.20" stroke="#1a1a1a" stroke-width="0.9"/>
<line x1="218.91" y1="898.00" x2="218.91" y2="895.80" stroke="#1a1a1a" stroke-width="0.9"/>
<line x1="218.91" y1="898.00" x2="218.91" y2="900.20" stroke="#1a1a1a" stroke-width="0.9"/>
<line x1="246.22" y1="898.00" x2="246.22" y2="895.80" stroke="#1a1a1a" stroke-width="0.9"/>
<line x1="246.22" y1="898.00" x2="246.22" y2="900.20" stroke="#1a1a1a" stroke-width="0.9"/>
<line x1="273.53" y1="898.00" x2="273.53" y2="895.80" stroke="#1a1a1a" stroke-width="0.9"/>
<line x1="273.53" y1="898.00" x2="273.53" y2="900.20" stroke="#1a1a1a" stroke-width="0.9"/>
<line x1="300.84" y1="898.00" x2="300.84" y2="895.80" stroke="#1a1a1a" stroke-width="0.9"/>
<line x1="300.84" y1="898.00" x2="300.84" y2="900.20" stroke="#1a1a1a" stroke-width="0.9"/>
<text x="48.00" y="845.80" font-family="'Liberation Serif', serif" font-size="12" font-weight="normal" font-style="normal" fill="#000" text-anchor="middle" textLength="56.2" lengthAdjust="spacingAndGlyphs" transform="rotate(-90 48 845.8)"><tspan font-style="italic">Output</tspan> (%)</text>
<rect x="68.70" y="569.50" width="245.80" height="328.50" fill="none" stroke="#1a1a1a" stroke-width="1.1"/>
<line x1="68.70" y1="679.00" x2="314.50" y2="679.00" stroke="#1a1a1a" stroke-width="1.6"/>
<line x1="68.70" y1="788.50" x2="314.50" y2="788.50" stroke="#1a1a1a" stroke-width="1.6"/>
<text x="82.36" y="911.00" font-family="'Liberation Serif', serif" font-size="10" font-weight="normal" font-style="normal" fill="#000" text-anchor="middle">1</text>
<text x="109.67" y="911.00" font-family="'Liberation Serif', serif" font-size="10" font-weight="normal" font-style="normal" fill="#000" text-anchor="middle">2</text>
<text x="136.98" y="911.00" font-family="'Liberation Serif', serif" font-size="10" font-weight="normal" font-style="normal" fill="#000" text-anchor="middle">3</text>
<text x="164.29" y="911.00" font-family="'Liberation Serif', serif" font-size="10" font-weight="normal" font-style="normal" fill="#000" text-anchor="middle">4</text>
<text x="191.60" y="911.00" font-family="'Liberation Serif', serif" font-size="10" font-weight="normal" font-style="normal" fill="#000" text-anchor="middle">5</text>
<text x="218.91" y="911.00" font-family="'Liberation Serif', serif" font-size="10" font-weight="normal" font-style="normal" fill="#000" text-anchor="middle">6</text>
<text x="246.22" y="911.00" font-family="'Liberation Serif', serif" font-size="10" font-weight="normal" font-style="normal" fill="#000" text-anchor="middle">7</text>
<text x="273.53" y="911.00" font-family="'Liberation Serif', serif" font-size="10" font-weight="normal" font-style="normal" fill="#000" text-anchor="middle">8</text>
<text x="300.84" y="911.00" font-family="'Liberation Serif', serif" font-size="10" font-weight="normal" font-style="normal" fill="#000" text-anchor="middle">9</text>
<text x="188.40" y="925.50" font-family="'Liberation Serif', serif" font-size="12" font-weight="normal" font-style="normal" fill="#000" text-anchor="middle" textLength="68.3" lengthAdjust="spacingAndGlyphs">Serial number</text>
<rect x="412.90" y="672.10" width="161.70" height="129.50" fill="#e2eef8" stroke="none" stroke-width="1"/>
<rect x="453.00" y="704.60" width="80.40" height="63.90" fill="#cfdfef" stroke="none" stroke-width="1"/>
<line x1="390.40" y1="818.60" x2="602.90" y2="648.80" stroke="#37714f" stroke-width="1.15" stroke-dasharray="2.3 1.8"/>
<circle cx="525" cy="711.4" r="3.15" fill="url(#sph)"/>
<circle cx="528" cy="721.2" r="3.15" fill="url(#sph)"/>
<circle cx="523.4" cy="725.2" r="3.15" fill="url(#sph)"/>
<circle cx="502.4" cy="731.5" r="3.15" fill="url(#sph)"/>
<circle cx="485.5" cy="727.1" r="3.15" fill="url(#sph)"/>
<circle cx="480" cy="742.5" r="3.15" fill="url(#sph)"/>
<circle cx="467" cy="741.2" r="3.15" fill="url(#sph)"/>
<circle cx="468" cy="753.4" r="3.15" fill="url(#sph)"/>
<circle cx="461.9" cy="772.1" r="3.15" fill="url(#sph)"/>
<line x1="398.80" y1="658.20" x2="418.90" y2="658.20" stroke="#3a8a5a" stroke-width="1.3" stroke-dasharray="1.3 1.5"/>
<text x="421.40" y="661.50" font-family="'Liberation Serif', serif" font-size="11" font-weight="normal" font-style="italic" fill="#000" text-anchor="start" textLength="20.4" lengthAdjust="spacingAndGlyphs">x = y</text>
<rect x="447.40" y="653.80" width="6.90" height="9.10" fill="#8fa5d0" stroke="none" stroke-width="1"/>
<text x="456.90" y="661.80" font-family="'Liberation Serif', serif" font-size="11" font-weight="bold" font-style="italic" fill="#000" text-anchor="start" textLength="44.5" lengthAdjust="spacingAndGlyphs">(μ-σ, μ+σ)</text>
<rect x="513.00" y="653.80" width="6.60" height="9.10" fill="#a9d2eb" stroke="none" stroke-width="1"/>
<text x="522.80" y="661.80" font-family="'Liberation Serif', serif" font-size="11" font-weight="bold" font-style="italic" fill="#000" text-anchor="start" textLength="54.9" lengthAdjust="spacingAndGlyphs">(μ-2σ, μ+2σ)</text>
<rect x="396.80" y="672.10" width="62.40" height="51.60" fill="#000" stroke="none" stroke-width="1"/>
<rect x="394.20" y="669.50" width="62.40" height="51.60" fill="#fff" stroke="#b5b5b5" stroke-width="0.7"/>
<text x="396.60" y="684.30" font-family="'Liberation Serif', serif" font-size="10.2" font-weight="normal" font-style="normal" fill="#000" text-anchor="start" textLength="42.3" lengthAdjust="spacingAndGlyphs">R<tspan dy="-4" font-size="6.5">2</tspan><tspan dy="4">=0.7317</tspan></text>
<text x="396.60" y="700.10" font-family="'Liberation Serif', serif" font-size="10.2" font-weight="normal" font-style="normal" fill="#000" text-anchor="start" textLength="54.1" lengthAdjust="spacingAndGlyphs">MAE=2.4676</text>
<text x="396.60" y="716.50" font-family="'Liberation Serif', serif" font-size="10.2" font-weight="normal" font-style="normal" fill="#000" text-anchor="start" textLength="59.4" lengthAdjust="spacingAndGlyphs">RMSE=2.0691</text>
<rect x="481.30" y="773.20" width="28.05" height="2.60" fill="#8fbb82" stroke="none" stroke-width="1"/>
<rect x="481.30" y="775.80" width="28.05" height="2.60" fill="#5a97a3" stroke="none" stroke-width="1"/>
<rect x="481.30" y="800.00" width="108.90" height="2.60" fill="#8fbb82" stroke="none" stroke-width="1"/>
<rect x="481.30" y="802.60" width="108.90" height="2.60" fill="#5a97a3" stroke="none" stroke-width="1"/>
<line x1="480.50" y1="788.90" x2="599.70" y2="788.90" stroke="#cccccc" stroke-width="0.5"/>
<rect x="480.50" y="763.00" width="119.20" height="52.80" fill="none" stroke="#333" stroke-width="0.9"/>
<line x1="482.60" y1="763.00" x2="482.60" y2="761.20" stroke="#333" stroke-width="0.7"/>
<text x="482.60" y="761.20" font-family="'Liberation Serif', serif" font-size="6.8" font-weight="normal" font-style="normal" fill="#000" text-anchor="middle" textLength="9.4" lengthAdjust="spacingAndGlyphs">0.0</text>
<line x1="495.98" y1="763.00" x2="495.98" y2="761.20" stroke="#333" stroke-width="0.7"/>
<text x="495.98" y="761.20" font-family="'Liberation Serif', serif" font-size="6.8" font-weight="normal" font-style="normal" fill="#000" text-anchor="middle" textLength="9.4" lengthAdjust="spacingAndGlyphs">0.1</text>
<line x1="509.35" y1="763.00" x2="509.35" y2="761.20" stroke="#333" stroke-width="0.7"/>
<text x="509.35" y="761.20" font-family="'Liberation Serif', serif" font-size="6.8" font-weight="normal" font-style="normal" fill="#000" text-anchor="middle" textLength="9.4" lengthAdjust="spacingAndGlyphs">0.2</text>
<line x1="522.73" y1="763.00" x2="522.73" y2="761.20" stroke="#333" stroke-width="0.7"/>
<text x="522.73" y="761.20" font-family="'Liberation Serif', serif" font-size="6.8" font-weight="normal" font-style="normal" fill="#000" text-anchor="middle" textLength="9.4" lengthAdjust="spacingAndGlyphs">0.3</text>
<line x1="536.10" y1="763.00" x2="536.10" y2="761.20" stroke="#333" stroke-width="0.7"/>
<text x="536.10" y="761.20" font-family="'Liberation Serif', serif" font-size="6.8" font-weight="normal" font-style="normal" fill="#000" text-anchor="middle" textLength="9.4" lengthAdjust="spacingAndGlyphs">0.4</text>
<line x1="549.48" y1="763.00" x2="549.48" y2="761.20" stroke="#333" stroke-width="0.7"/>
<text x="549.48" y="761.20" font-family="'Liberation Serif', serif" font-size="6.8" font-weight="normal" font-style="normal" fill="#000" text-anchor="middle" textLength="9.4" lengthAdjust="spacingAndGlyphs">0.5</text>
<line x1="562.85" y1="763.00" x2="562.85" y2="761.20" stroke="#333" stroke-width="0.7"/>
<text x="562.85" y="761.20" font-family="'Liberation Serif', serif" font-size="6.8" font-weight="normal" font-style="normal" fill="#000" text-anchor="middle" textLength="9.4" lengthAdjust="spacingAndGlyphs">0.6</text>
<line x1="576.23" y1="763.00" x2="576.23" y2="761.20" stroke="#333" stroke-width="0.7"/>
<text x="576.23" y="761.20" font-family="'Liberation Serif', serif" font-size="6.8" font-weight="normal" font-style="normal" fill="#000" text-anchor="middle" textLength="9.4" lengthAdjust="spacingAndGlyphs">0.7</text>
<line x1="589.60" y1="763.00" x2="589.60" y2="761.20" stroke="#333" stroke-width="0.7"/>
<text x="589.60" y="761.20" font-family="'Liberation Serif', serif" font-size="6.8" font-weight="normal" font-style="normal" fill="#000" text-anchor="middle" textLength="9.4" lengthAdjust="spacingAndGlyphs">0.8</text>
<line x1="478.90" y1="777.20" x2="480.50" y2="777.20" stroke="#333" stroke-width="0.7"/>
<line x1="478.90" y1="789.00" x2="480.50" y2="789.00" stroke="#333" stroke-width="0.7"/>
<line x1="478.90" y1="802.60" x2="480.50" y2="802.60" stroke="#333" stroke-width="0.7"/>
<text x="479.50" y="778.20" font-family="'Liberation Serif', serif" font-size="7" font-weight="normal" font-style="normal" fill="#000" text-anchor="end" transform="rotate(-20 479.5 778.2)">Var2</text>
<text x="479.50" y="803.30" font-family="'Liberation Serif', serif" font-size="7" font-weight="normal" font-style="normal" fill="#000" text-anchor="end" transform="rotate(-20 479.5 803.3)">Var1</text>
<rect x="579.20" y="769.80" width="9.50" height="4.40" fill="#8fbb82" stroke="none" stroke-width="1"/>
<rect x="579.20" y="781.80" width="9.50" height="4.40" fill="#5a97a3" stroke="none" stroke-width="1"/>
<text x="590.60" y="774.60" font-family="'Liberation Serif', serif" font-size="7.5" font-weight="normal" font-style="normal" fill="#000" text-anchor="start">S<tspan font-size="4.5" dy="1.5">i</tspan></text>
<text x="590.60" y="786.60" font-family="'Liberation Serif', serif" font-size="7.5" font-weight="normal" font-style="normal" fill="#000" text-anchor="start">S<tspan font-size="4.5" dy="1.5">Ti</tspan></text>
<text x="537.30" y="813.80" font-family="'Liberation Serif', serif" font-size="7" font-weight="normal" font-style="normal" fill="#000" text-anchor="middle" textLength="16.5" lengthAdjust="spacingAndGlyphs">Sobol</text>
<rect x="390.40" y="648.80" width="212.50" height="169.80" fill="none" stroke="#1a1a1a" stroke-width="1.4"/>
<line x1="388.60" y1="818.60" x2="390.40" y2="818.60" stroke="#1a1a1a" stroke-width="1"/>
<line x1="390.40" y1="818.60" x2="390.40" y2="820.40" stroke="#1a1a1a" stroke-width="1"/>
<line x1="387.20" y1="807.99" x2="390.40" y2="807.99" stroke="#1a1a1a" stroke-width="1"/>
<line x1="403.68" y1="818.60" x2="403.68" y2="821.80" stroke="#1a1a1a" stroke-width="1"/>
<text x="385.80" y="812.19" font-family="'Liberation Serif', serif" font-size="12.2" font-weight="normal" font-style="normal" fill="#000" text-anchor="end">50</text>
<text x="403.68" y="835.30" font-family="'Liberation Serif', serif" font-size="12.2" font-weight="normal" font-style="normal" fill="#000" text-anchor="middle">50</text>
<line x1="388.60" y1="797.38" x2="390.40" y2="797.38" stroke="#1a1a1a" stroke-width="1"/>
<line x1="416.96" y1="818.60" x2="416.96" y2="820.40" stroke="#1a1a1a" stroke-width="1"/>
<line x1="387.20" y1="786.76" x2="390.40" y2="786.76" stroke="#1a1a1a" stroke-width="1"/>
<line x1="430.24" y1="818.60" x2="430.24" y2="821.80" stroke="#1a1a1a" stroke-width="1"/>
<text x="385.80" y="790.96" font-family="'Liberation Serif', serif" font-size="12.2" font-weight="normal" font-style="normal" fill="#000" text-anchor="end">55</text>
<text x="430.24" y="835.30" font-family="'Liberation Serif', serif" font-size="12.2" font-weight="normal" font-style="normal" fill="#000" text-anchor="middle">55</text>
<line x1="388.60" y1="776.15" x2="390.40" y2="776.15" stroke="#1a1a1a" stroke-width="1"/>
<line x1="443.52" y1="818.60" x2="443.52" y2="820.40" stroke="#1a1a1a" stroke-width="1"/>
<line x1="387.20" y1="765.54" x2="390.40" y2="765.54" stroke="#1a1a1a" stroke-width="1"/>
<line x1="456.81" y1="818.60" x2="456.81" y2="821.80" stroke="#1a1a1a" stroke-width="1"/>
<text x="385.80" y="769.74" font-family="'Liberation Serif', serif" font-size="12.2" font-weight="normal" font-style="normal" fill="#000" text-anchor="end">60</text>
<text x="456.81" y="835.30" font-family="'Liberation Serif', serif" font-size="12.2" font-weight="normal" font-style="normal" fill="#000" text-anchor="middle">60</text>
<line x1="388.60" y1="754.92" x2="390.40" y2="754.92" stroke="#1a1a1a" stroke-width="1"/>
<line x1="470.09" y1="818.60" x2="470.09" y2="820.40" stroke="#1a1a1a" stroke-width="1"/>
<line x1="387.20" y1="744.31" x2="390.40" y2="744.31" stroke="#1a1a1a" stroke-width="1"/>
<line x1="483.37" y1="818.60" x2="483.37" y2="821.80" stroke="#1a1a1a" stroke-width="1"/>
<text x="385.80" y="748.51" font-family="'Liberation Serif', serif" font-size="12.2" font-weight="normal" font-style="normal" fill="#000" text-anchor="end">65</text>
<text x="483.37" y="835.30" font-family="'Liberation Serif', serif" font-size="12.2" font-weight="normal" font-style="normal" fill="#000" text-anchor="middle">65</text>
<line x1="388.60" y1="733.70" x2="390.40" y2="733.70" stroke="#1a1a1a" stroke-width="1"/>
<line x1="496.65" y1="818.60" x2="496.65" y2="820.40" stroke="#1a1a1a" stroke-width="1"/>
<line x1="387.20" y1="723.09" x2="390.40" y2="723.09" stroke="#1a1a1a" stroke-width="1"/>
<line x1="509.93" y1="818.60" x2="509.93" y2="821.80" stroke="#1a1a1a" stroke-width="1"/>
<text x="385.80" y="727.29" font-family="'Liberation Serif', serif" font-size="12.2" font-weight="normal" font-style="normal" fill="#000" text-anchor="end">70</text>
<text x="509.93" y="835.30" font-family="'Liberation Serif', serif" font-size="12.2" font-weight="normal" font-style="normal" fill="#000" text-anchor="middle">70</text>
<line x1="388.60" y1="712.48" x2="390.40" y2="712.48" stroke="#1a1a1a" stroke-width="1"/>
<line x1="523.21" y1="818.60" x2="523.21" y2="820.40" stroke="#1a1a1a" stroke-width="1"/>
<line x1="387.20" y1="701.86" x2="390.40" y2="701.86" stroke="#1a1a1a" stroke-width="1"/>
<line x1="536.49" y1="818.60" x2="536.49" y2="821.80" stroke="#1a1a1a" stroke-width="1"/>
<text x="385.80" y="706.06" font-family="'Liberation Serif', serif" font-size="12.2" font-weight="normal" font-style="normal" fill="#000" text-anchor="end">75</text>
<text x="536.49" y="835.30" font-family="'Liberation Serif', serif" font-size="12.2" font-weight="normal" font-style="normal" fill="#000" text-anchor="middle">75</text>
<line x1="388.60" y1="691.25" x2="390.40" y2="691.25" stroke="#1a1a1a" stroke-width="1"/>
<line x1="549.77" y1="818.60" x2="549.77" y2="820.40" stroke="#1a1a1a" stroke-width="1"/>
<line x1="387.20" y1="680.64" x2="390.40" y2="680.64" stroke="#1a1a1a" stroke-width="1"/>
<line x1="563.06" y1="818.60" x2="563.06" y2="821.80" stroke="#1a1a1a" stroke-width="1"/>
<text x="385.80" y="684.84" font-family="'Liberation Serif', serif" font-size="12.2" font-weight="normal" font-style="normal" fill="#000" text-anchor="end">80</text>
<text x="563.06" y="835.30" font-family="'Liberation Serif', serif" font-size="12.2" font-weight="normal" font-style="normal" fill="#000" text-anchor="middle">80</text>
<line x1="388.60" y1="670.02" x2="390.40" y2="670.02" stroke="#1a1a1a" stroke-width="1"/>
<line x1="576.34" y1="818.60" x2="576.34" y2="820.40" stroke="#1a1a1a" stroke-width="1"/>
<line x1="387.20" y1="659.41" x2="390.40" y2="659.41" stroke="#1a1a1a" stroke-width="1"/>
<line x1="589.62" y1="818.60" x2="589.62" y2="821.80" stroke="#1a1a1a" stroke-width="1"/>
<text x="385.80" y="663.61" font-family="'Liberation Serif', serif" font-size="12.2" font-weight="normal" font-style="normal" fill="#000" text-anchor="end">85</text>
<text x="589.62" y="835.30" font-family="'Liberation Serif', serif" font-size="12.2" font-weight="normal" font-style="normal" fill="#000" text-anchor="middle">85</text>
<line x1="388.60" y1="648.80" x2="390.40" y2="648.80" stroke="#1a1a1a" stroke-width="1"/>
<line x1="602.90" y1="818.60" x2="602.90" y2="820.40" stroke="#1a1a1a" stroke-width="1"/>
<text x="496.60" y="852.50" font-family="'Liberation Serif', serif" font-size="16" font-weight="normal" font-style="italic" fill="#000" text-anchor="middle">T<tspan font-size="11" dy="3">v</tspan></text>
<text x="368.00" y="733.50" font-family="'Liberation Serif', serif" font-size="16" font-weight="normal" font-style="italic" fill="#000" text-anchor="middle" transform="rotate(-90 368 733.5)">P<tspan font-size="11" dy="3">v</tspan></text>
<rect x="0.00" y="20.00" width="1.25" height="911.00" fill="#1c3a7e" stroke="none" stroke-width="1"/>
<rect x="0.00" y="1.00" width="1.10" height="19.00" fill="#5a6a8a" stroke="none" stroke-width="1"/>
<rect x="683.60" y="20.00" width="1.40" height="911.00" fill="#0d2366" stroke="none" stroke-width="1"/>
<rect x="1.25" y="929.80" width="682.40" height="1.20" fill="#e4e4ee" stroke="none" stroke-width="1"/>
</svg></body></html>
